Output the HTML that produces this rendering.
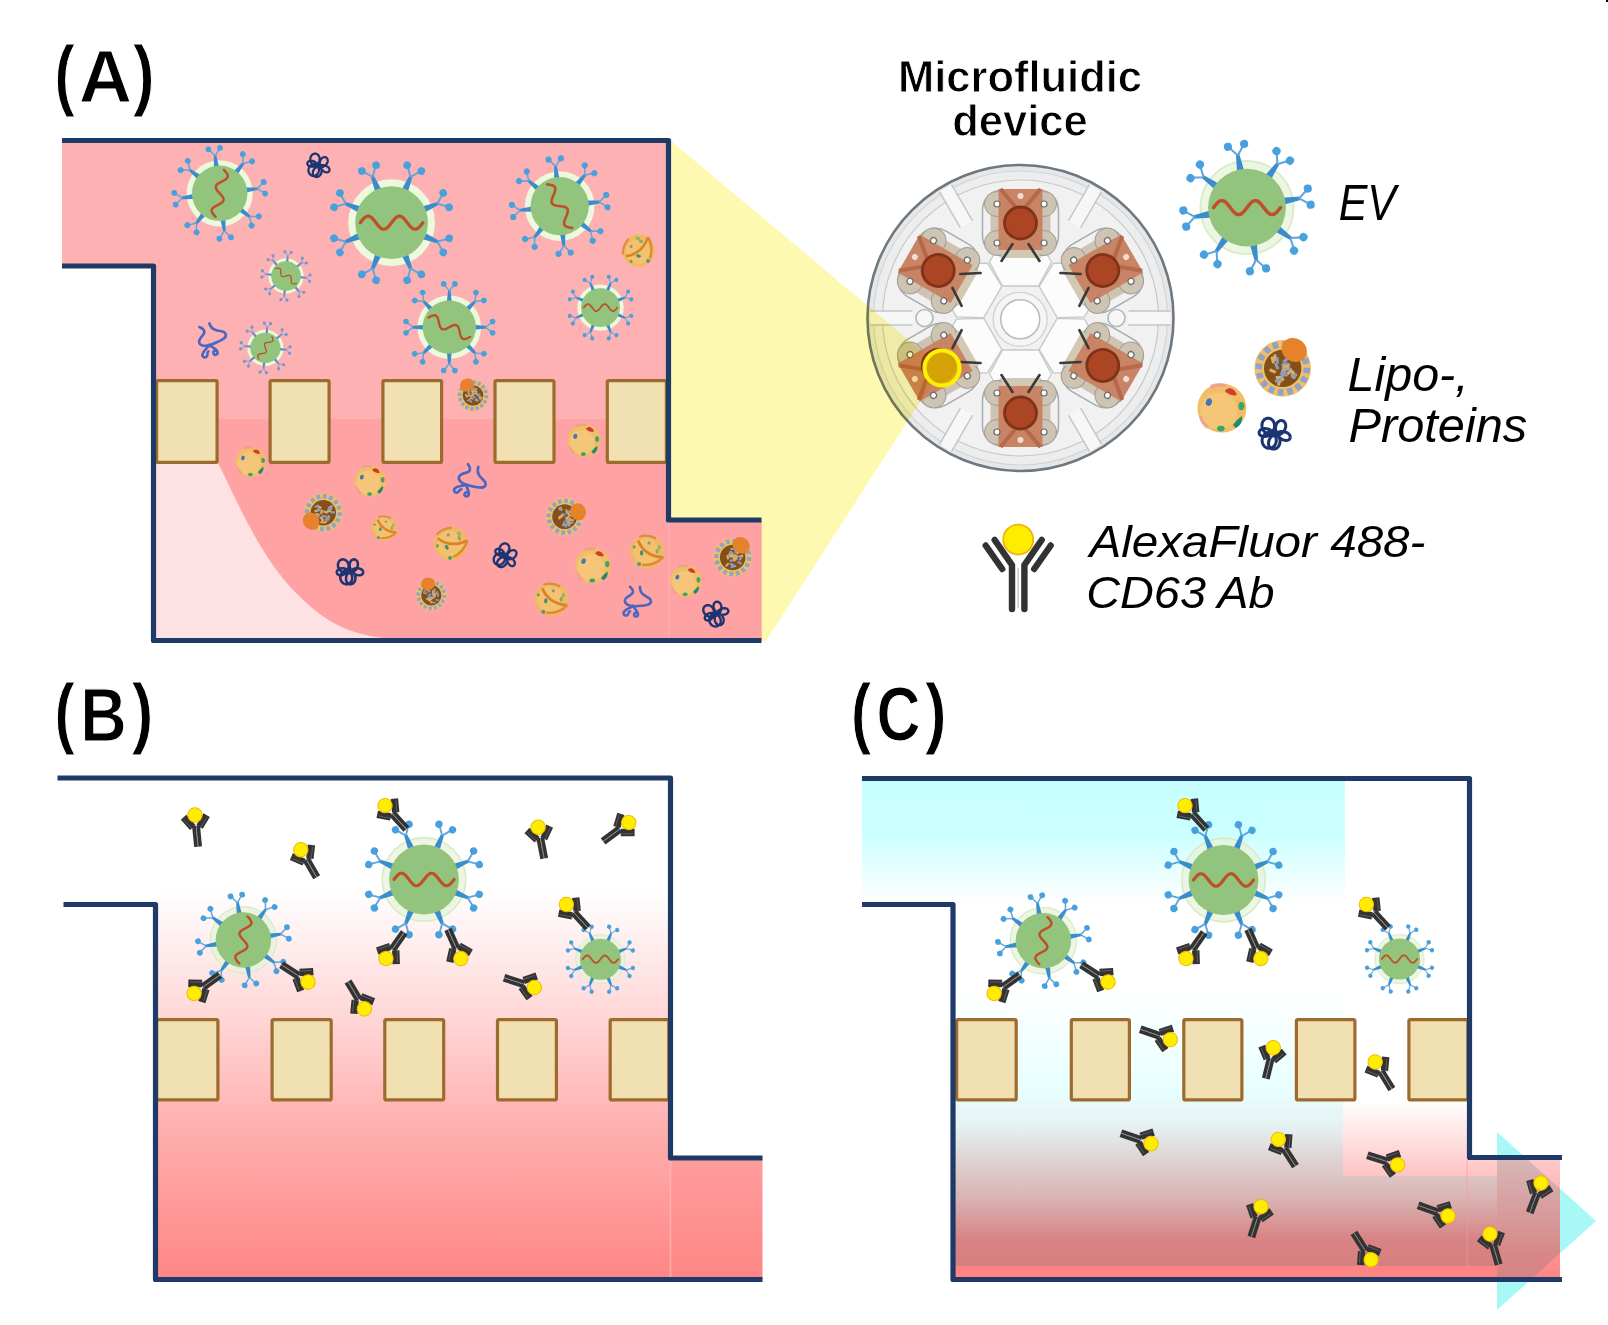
<!DOCTYPE html><html><head><meta charset="utf-8"><title>figure</title><style>html,body{margin:0;padding:0;background:#fff;width:1608px;height:1325px;overflow:hidden}svg{display:block}</style></head><body>
<svg width="1608" height="1325" viewBox="0 0 1608 1325">
<defs>
<g id="spk"><polygon points="33,-3.4 33,3.4 50,1.6 50,-1.6" fill="#3a8dcd"/><path d="M49,0 L57.5,-6.6 M49,0 L57.5,6.6" stroke="#5ea6dc" stroke-width="1.9" fill="none"/><circle cx="58.5" cy="-7.6" r="3.8" fill="#48a0dc"/><circle cx="58.5" cy="7.6" r="3.8" fill="#48a0dc"/></g>
<g id="spks"><polygon points="33,-3.4 33,3.4 50,1.6 50,-1.6" fill="#5f8ccc"/><path d="M49,0 L57.5,-6.6 M49,0 L57.5,6.6" stroke="#7a9ad2" stroke-width="1.9" fill="none"/><circle cx="58.5" cy="-7.6" r="3.8" fill="#6a9ad6"/><circle cx="58.5" cy="7.6" r="3.8" fill="#6a9ad6"/></g>
<path id="rna" d="M-31,-0 L-29.97,-1.35 L-28.93,-2.64 L-27.9,-3.82 L-26.87,-4.83 L-25.83,-5.63 L-24.8,-6.18 L-23.77,-6.46 L-22.73,-6.46 L-21.7,-6.18 L-20.67,-5.63 L-19.63,-4.83 L-18.6,-3.82 L-17.57,-2.64 L-16.53,-1.35 L-15.5,-0 L-14.47,1.35 L-13.43,2.64 L-12.4,3.82 L-11.37,4.83 L-10.33,5.63 L-9.3,6.18 L-8.27,6.46 L-7.23,6.46 L-6.2,6.18 L-5.17,5.63 L-4.13,4.83 L-3.1,3.82 L-2.07,2.64 L-1.03,1.35 L0,0 L1.03,-1.35 L2.07,-2.64 L3.1,-3.82 L4.13,-4.83 L5.17,-5.63 L6.2,-6.18 L7.23,-6.46 L8.27,-6.46 L9.3,-6.18 L10.33,-5.63 L11.37,-4.83 L12.4,-3.82 L13.43,-2.64 L14.47,-1.35 L15.5,-0 L16.53,1.35 L17.57,2.64 L18.6,3.82 L19.63,4.83 L20.67,5.63 L21.7,6.18 L22.73,6.46 L23.77,6.46 L24.8,6.18 L25.83,5.63 L26.87,4.83 L27.9,3.82 L28.93,2.64 L29.97,1.35 L31,0" fill="none" stroke="#bf4f28" stroke-width="3.2" stroke-linecap="round"/>
<g id="ab"><path d="M-6.2,47 V3 L-23.5,-22 M6.2,47 V3 L23.5,-22" stroke="#333" stroke-width="6.4" fill="none" stroke-linecap="round" stroke-linejoin="round"/><path d="M-16,7 L-32.5,-16.5 M16,7 L32.5,-16.5" stroke="#333" stroke-width="6.4" fill="none" stroke-linecap="round"/><path d="M0,6 V46" stroke="#c8c8c8" stroke-width="1.4"/><circle cx="0" cy="-22.4" r="15" fill="#ffed00" stroke="#f0b510" stroke-width="1.8"/></g>
<g id="abs"><path d="M-2.05,22 V1" stroke="#333" stroke-width="3.8"/><path d="M2.05,22 V1" stroke="#333" stroke-width="3.8"/><path d="M-3.4,2.4 L-11.6,-8.6 M3.4,2.4 L11.6,-8.6" stroke="#333" stroke-width="7.4" fill="none"/><path d="M-3.8,4.2 L-11.6,-6.4 M3.8,4.2 L11.6,-6.4" stroke="#6a6a6a" stroke-width="0.7" fill="none"/><path d="M0,3 V21.5" stroke="#8a8a8a" stroke-width="0.8"/><circle cx="0" cy="-9.8" r="7.2" fill="#ffed00" stroke="#f2b800" stroke-width="1"/></g>
<path id="tangle" d="M13.08,0 L12.9,-0.61 L12.56,-1.2 L12.07,-1.74 L11.43,-2.22 L10.68,-2.62 L9.81,-2.93 L8.84,-3.12 L7.8,-3.19 L6.71,-3.13 L5.59,-2.93 L4.47,-2.6 L3.36,-2.14 L2.3,-1.55 L1.29,-0.85 L0.38,-0.04 L-0.44,0.86 L-1.14,1.83 L-1.7,2.85 L-2.13,3.9 L-2.41,4.95 L-2.55,5.99 L-2.53,6.99 L-2.38,7.93 L-2.09,8.79 L-1.68,9.55 L-1.17,10.18 L-0.56,10.69 L0.11,11.05 L0.84,11.26 L1.59,11.32 L2.35,11.22 L3.09,10.96 L3.78,10.56 L4.42,10.02 L4.97,9.35 L5.42,8.58 L5.76,7.72 L5.98,6.79 L6.05,5.82 L5.99,4.82 L5.79,3.83 L5.44,2.86 L4.96,1.95 L4.35,1.1 L3.63,0.35 L2.81,-0.3 L1.91,-0.81 L0.95,-1.19 L-0.06,-1.42 L-1.08,-1.5 L-2.1,-1.42 L-3.09,-1.19 L-4.03,-0.81 L-4.91,-0.3 L-5.69,0.35 L-6.36,1.1 L-6.92,1.95 L-7.33,2.86 L-7.61,3.83 L-7.74,4.82 L-7.72,5.82 L-7.55,6.79 L-7.24,7.72 L-6.8,8.58 L-6.24,9.35 L-5.58,10.02 L-4.82,10.56 L-4.01,10.96 L-3.14,11.22 L-2.26,11.32 L-1.38,11.26 L-0.52,11.05 L0.29,10.69 L1.03,10.18 L1.68,9.55 L2.23,8.79 L2.65,7.93 L2.94,6.99 L3.08,5.99 L3.08,4.95 L2.93,3.9 L2.62,2.85 L2.18,1.83 L1.6,0.86 L0.89,-0.04 L0.08,-0.85 L-0.82,-1.55 L-1.78,-2.14 L-2.8,-2.6 L-3.84,-2.93 L-4.89,-3.13 L-5.91,-3.19 L-6.89,-3.12 L-7.8,-2.93 L-8.62,-2.62 L-9.34,-2.22 L-9.94,-1.74 L-10.41,-1.2 L-10.74,-0.61 L-10.92,-0 L-10.95,0.61 L-10.83,1.2 L-10.57,1.74 L-10.18,2.22 L-9.66,2.62 L-9.04,2.93 L-8.32,3.12 L-7.53,3.19 L-6.69,3.13 L-5.82,2.93 L-4.95,2.6 L-4.09,2.14 L-3.27,1.55 L-2.51,0.85 L-1.83,0.04 L-1.25,-0.86 L-0.77,-1.83 L-0.42,-2.85 L-0.2,-3.9 L-0.12,-4.95 L-0.18,-5.99 L-0.37,-6.99 L-0.69,-7.93 L-1.13,-8.79 L-1.68,-9.55 L-2.33,-10.18 L-3.05,-10.69 L-3.83,-11.05 L-4.64,-11.26 L-5.46,-11.32 L-6.27,-11.22 L-7.05,-10.96 L-7.77,-10.56 L-8.42,-10.02 L-8.96,-9.35 L-9.39,-8.58 L-9.7,-7.72 L-9.85,-6.79 L-9.86,-5.82 L-9.72,-4.82 L-9.41,-3.83 L-8.96,-2.86 L-8.35,-1.95 L-7.6,-1.1 L-6.73,-0.35 L-5.74,0.3 L-4.67,0.81 L-3.51,1.19 L-2.31,1.42 L-1.08,1.5 L0.15,1.42 L1.37,1.19 L2.54,0.81 L3.65,0.3 L4.67,-0.35 L5.59,-1.1 L6.39,-1.95 L7.06,-2.86 L7.59,-3.83 L7.97,-4.82 L8.2,-5.82 L8.28,-6.79 L8.22,-7.72 L8.02,-8.58 L7.69,-9.35 L7.26,-10.02 L6.73,-10.56 L6.13,-10.96 L5.48,-11.22 L4.79,-11.32 L4.1,-11.26 L3.42,-11.05 L2.78,-10.69 L2.19,-10.18 L1.68,-9.55 L1.27,-8.79 L0.96,-7.93 L0.77,-6.99 L0.71,-5.99 L0.79,-4.95 L1,-3.9 L1.34,-2.85 L1.81,-1.83 L2.4,-0.86 L3.1,0.04 L3.89,0.85 L4.75,1.55 L5.66,2.14 L6.61,2.6 L7.57,2.93 L8.51,3.13 L9.42,3.19 L10.27,3.12 L11.04,2.93 L11.72,2.62 L12.27,2.22 L12.7,1.74 L12.98,1.2 L13.11,0.61 L13.08,0" fill="none" stroke="#1d3472" stroke-width="2.3" stroke-linejoin="round"/>
<linearGradient id="gB" x1="0" y1="0" x2="0" y2="1" gradientUnits="objectBoundingBox"><stop offset="0" stop-color="#ffffff"/><stop offset="0.33" stop-color="#ffd6d6"/><stop offset="0.62" stop-color="#ffaeae"/><stop offset="1" stop-color="#ff8585"/></linearGradient>
<linearGradient id="gCtop" x1="0" y1="0" x2="0" y2="1"><stop offset="0" stop-color="#c6ffff"/><stop offset="0.45" stop-color="#ccffff"/><stop offset="1" stop-color="#ffffff"/></linearGradient>
<linearGradient id="gClow" x1="0" y1="0" x2="0" y2="1"><stop offset="0" stop-color="#ffffff"/><stop offset="0.36" stop-color="#e8ffff"/><stop offset="0.49" stop-color="#e6f2f2"/><stop offset="0.60" stop-color="#e0d6d6"/><stop offset="0.76" stop-color="#d9b2b2"/><stop offset="0.90" stop-color="#d88484"/><stop offset="1" stop-color="#d77f7f"/></linearGradient>
<linearGradient id="gCpink" x1="0" y1="0" x2="0" y2="1"><stop offset="0" stop-color="#ffffff"/><stop offset="1" stop-color="#ffc3c3"/></linearGradient>
<linearGradient id="gCright" x1="0" y1="0" x2="0" y2="1"><stop offset="0" stop-color="#ffc8c8"/><stop offset="1" stop-color="#ff8585"/></linearGradient>
<linearGradient id="gCarrow" x1="0" y1="0" x2="0" y2="1"><stop offset="0" stop-color="#d6c4c4"/><stop offset="0.7" stop-color="#d88686"/><stop offset="1" stop-color="#d77f7f"/></linearGradient>
<clipPath id="clipC"><path d="M955,780 H1467 V1160 H1560 V1277 H955 Z"/></clipPath>
<clipPath id="clipCstep"><rect x="1470" y="1160" width="92" height="117"/></clipPath>
<linearGradient id="gBr" x1="0" y1="0" x2="0" y2="1"><stop offset="0" stop-color="#fe9d9d"/><stop offset="1" stop-color="#ff8585"/></linearGradient></defs>
<rect width="1608" height="1325" fill="#fff"/>
<polygon points="670,140 766,641 670,641" fill="#fef9b0"/>
<g>
<circle cx="1020.5" cy="318" r="153" fill="#e6e7e8" stroke="#6f787f" stroke-width="2.6"/>
<circle cx="1020.5" cy="318" r="147" fill="#ededed" stroke="#d2d4d6" stroke-width="1.2"/>
<circle cx="1020.5" cy="318" r="138" fill="#f1f1f1" stroke="#c6c9cc" stroke-width="1.2"/>
<g transform="translate(1020.5,318) rotate(0)"><path d="M108,-7 H150 M108,7 H150" stroke="#c3c6c9" stroke-width="1.4"/><rect x="108" y="-6" width="42" height="12" fill="#f7f7f7"/></g>
<g transform="translate(1020.5,318) rotate(60)"><path d="M108,-7 H150 M108,7 H150" stroke="#c3c6c9" stroke-width="1.4"/><rect x="108" y="-6" width="42" height="12" fill="#f7f7f7"/></g>
<g transform="translate(1020.5,318) rotate(120)"><path d="M108,-7 H150 M108,7 H150" stroke="#c3c6c9" stroke-width="1.4"/><rect x="108" y="-6" width="42" height="12" fill="#f7f7f7"/></g>
<g transform="translate(1020.5,318) rotate(180)"><path d="M108,-7 H150 M108,7 H150" stroke="#c3c6c9" stroke-width="1.4"/><rect x="108" y="-6" width="42" height="12" fill="#f7f7f7"/></g>
<g transform="translate(1020.5,318) rotate(240)"><path d="M108,-7 H150 M108,7 H150" stroke="#c3c6c9" stroke-width="1.4"/><rect x="108" y="-6" width="42" height="12" fill="#f7f7f7"/></g>
<g transform="translate(1020.5,318) rotate(300)"><path d="M108,-7 H150 M108,7 H150" stroke="#c3c6c9" stroke-width="1.4"/><rect x="108" y="-6" width="42" height="12" fill="#f7f7f7"/></g>
<g transform="translate(1020.5,318) rotate(30)">
<polygon points="32,-18 56,-31 80,-17 80,17 56,31 32,18" fill="#fcfcfc" stroke="#c6c8ca" stroke-width="1.3"/>
</g>
<g transform="translate(1020.5,318) rotate(90)">
<polygon points="32,-18 56,-31 80,-17 80,17 56,31 32,18" fill="#fcfcfc" stroke="#c6c8ca" stroke-width="1.3"/>
</g>
<g transform="translate(1020.5,318) rotate(150)">
<polygon points="32,-18 56,-31 80,-17 80,17 56,31 32,18" fill="#fcfcfc" stroke="#c6c8ca" stroke-width="1.3"/>
</g>
<g transform="translate(1020.5,318) rotate(210)">
<polygon points="32,-18 56,-31 80,-17 80,17 56,31 32,18" fill="#fcfcfc" stroke="#c6c8ca" stroke-width="1.3"/>
</g>
<g transform="translate(1020.5,318) rotate(270)">
<polygon points="32,-18 56,-31 80,-17 80,17 56,31 32,18" fill="#fcfcfc" stroke="#c6c8ca" stroke-width="1.3"/>
</g>
<g transform="translate(1020.5,318) rotate(330)">
<polygon points="32,-18 56,-31 80,-17 80,17 56,31 32,18" fill="#fcfcfc" stroke="#c6c8ca" stroke-width="1.3"/>
</g>
<g transform="translate(1020.5,318) rotate(-90) translate(95,0) rotate(90)">
<rect x="-38" y="-33" width="76" height="66" rx="20" fill="none" stroke="#a6abb0" stroke-width="1.5"/>
<rect x="-30" y="-19" width="60" height="39" fill="#cdc4b3"/>
<circle cx="-23.5" cy="-19" r="12.5" fill="#cdc4b3" stroke="#a39b90" stroke-width="1"/>
<circle cx="23.5" cy="-19" r="12.5" fill="#cdc4b3" stroke="#a39b90" stroke-width="1"/>
<circle cx="-23.5" cy="20" r="12.5" fill="#cdc4b3" stroke="#a39b90" stroke-width="1"/>
<circle cx="23.5" cy="20" r="12.5" fill="#cdc4b3" stroke="#a39b90" stroke-width="1"/>
<path d="M-12,22 H12 L21,35 H-21 Z" fill="#d2c8b4"/>
<rect x="-22" y="-34" width="44" height="61" fill="#c98365"/>
<path d="M-20,-34 L0,-10 L20,-34" stroke="#b5694a" stroke-width="4" fill="none"/>
<circle cx="0" cy="-27" r="3" fill="#f4dcd0"/>
<circle cx="0" cy="0" r="16" fill="#ac4524" stroke="#7f3318" stroke-width="2.8"/>
<circle cx="-23.5" cy="-19" r="3" fill="#fbfbfb" stroke="#6f6a66" stroke-width="1.2"/>
<circle cx="23.5" cy="-19" r="3" fill="#fbfbfb" stroke="#6f6a66" stroke-width="1.2"/>
<circle cx="-23.5" cy="20" r="3" fill="#fbfbfb" stroke="#6f6a66" stroke-width="1.2"/>
<circle cx="23.5" cy="20" r="3" fill="#fbfbfb" stroke="#6f6a66" stroke-width="1.2"/>
<path d="M-19,38 L-8,21 M19,38 L8,21" stroke="#3a3a3a" stroke-width="2.6" fill="none" stroke-linecap="round"/>
</g>
<g transform="translate(1020.5,318) rotate(-30) translate(95,0) rotate(90)">
<rect x="-38" y="-33" width="76" height="66" rx="20" fill="none" stroke="#a6abb0" stroke-width="1.5"/>
<rect x="-30" y="-19" width="60" height="39" fill="#cdc4b3"/>
<circle cx="-23.5" cy="-19" r="12.5" fill="#cdc4b3" stroke="#a39b90" stroke-width="1"/>
<circle cx="23.5" cy="-19" r="12.5" fill="#cdc4b3" stroke="#a39b90" stroke-width="1"/>
<circle cx="-23.5" cy="20" r="12.5" fill="#cdc4b3" stroke="#a39b90" stroke-width="1"/>
<circle cx="23.5" cy="20" r="12.5" fill="#cdc4b3" stroke="#a39b90" stroke-width="1"/>
<path d="M-12,22 H12 L21,35 H-21 Z" fill="#d2c8b4"/>
<rect x="-22" y="-34" width="44" height="61" fill="#c98365"/>
<path d="M-20,-34 L0,-10 L20,-34" stroke="#b5694a" stroke-width="4" fill="none"/>
<circle cx="0" cy="-27" r="3" fill="#f4dcd0"/>
<circle cx="0" cy="0" r="16" fill="#ac4524" stroke="#7f3318" stroke-width="2.8"/>
<circle cx="-23.5" cy="-19" r="3" fill="#fbfbfb" stroke="#6f6a66" stroke-width="1.2"/>
<circle cx="23.5" cy="-19" r="3" fill="#fbfbfb" stroke="#6f6a66" stroke-width="1.2"/>
<circle cx="-23.5" cy="20" r="3" fill="#fbfbfb" stroke="#6f6a66" stroke-width="1.2"/>
<circle cx="23.5" cy="20" r="3" fill="#fbfbfb" stroke="#6f6a66" stroke-width="1.2"/>
<path d="M-19,38 L-8,21 M19,38 L8,21" stroke="#3a3a3a" stroke-width="2.6" fill="none" stroke-linecap="round"/>
</g>
<g transform="translate(1020.5,318) rotate(30) translate(95,0) rotate(90)">
<rect x="-38" y="-33" width="76" height="66" rx="20" fill="none" stroke="#a6abb0" stroke-width="1.5"/>
<rect x="-30" y="-19" width="60" height="39" fill="#cdc4b3"/>
<circle cx="-23.5" cy="-19" r="12.5" fill="#cdc4b3" stroke="#a39b90" stroke-width="1"/>
<circle cx="23.5" cy="-19" r="12.5" fill="#cdc4b3" stroke="#a39b90" stroke-width="1"/>
<circle cx="-23.5" cy="20" r="12.5" fill="#cdc4b3" stroke="#a39b90" stroke-width="1"/>
<circle cx="23.5" cy="20" r="12.5" fill="#cdc4b3" stroke="#a39b90" stroke-width="1"/>
<path d="M-12,22 H12 L21,35 H-21 Z" fill="#d2c8b4"/>
<rect x="-22" y="-34" width="44" height="61" fill="#c98365"/>
<path d="M-20,-34 L0,-10 L20,-34" stroke="#b5694a" stroke-width="4" fill="none"/>
<circle cx="0" cy="-27" r="3" fill="#f4dcd0"/>
<circle cx="0" cy="0" r="16" fill="#ac4524" stroke="#7f3318" stroke-width="2.8"/>
<circle cx="-23.5" cy="-19" r="3" fill="#fbfbfb" stroke="#6f6a66" stroke-width="1.2"/>
<circle cx="23.5" cy="-19" r="3" fill="#fbfbfb" stroke="#6f6a66" stroke-width="1.2"/>
<circle cx="-23.5" cy="20" r="3" fill="#fbfbfb" stroke="#6f6a66" stroke-width="1.2"/>
<circle cx="23.5" cy="20" r="3" fill="#fbfbfb" stroke="#6f6a66" stroke-width="1.2"/>
<path d="M-19,38 L-8,21 M19,38 L8,21" stroke="#3a3a3a" stroke-width="2.6" fill="none" stroke-linecap="round"/>
</g>
<g transform="translate(1020.5,318) rotate(90) translate(95,0) rotate(90)">
<rect x="-38" y="-33" width="76" height="66" rx="20" fill="none" stroke="#a6abb0" stroke-width="1.5"/>
<rect x="-30" y="-19" width="60" height="39" fill="#cdc4b3"/>
<circle cx="-23.5" cy="-19" r="12.5" fill="#cdc4b3" stroke="#a39b90" stroke-width="1"/>
<circle cx="23.5" cy="-19" r="12.5" fill="#cdc4b3" stroke="#a39b90" stroke-width="1"/>
<circle cx="-23.5" cy="20" r="12.5" fill="#cdc4b3" stroke="#a39b90" stroke-width="1"/>
<circle cx="23.5" cy="20" r="12.5" fill="#cdc4b3" stroke="#a39b90" stroke-width="1"/>
<path d="M-12,22 H12 L21,35 H-21 Z" fill="#d2c8b4"/>
<rect x="-22" y="-34" width="44" height="61" fill="#c98365"/>
<path d="M-20,-34 L0,-10 L20,-34" stroke="#b5694a" stroke-width="4" fill="none"/>
<circle cx="0" cy="-27" r="3" fill="#f4dcd0"/>
<circle cx="0" cy="0" r="16" fill="#ac4524" stroke="#7f3318" stroke-width="2.8"/>
<circle cx="-23.5" cy="-19" r="3" fill="#fbfbfb" stroke="#6f6a66" stroke-width="1.2"/>
<circle cx="23.5" cy="-19" r="3" fill="#fbfbfb" stroke="#6f6a66" stroke-width="1.2"/>
<circle cx="-23.5" cy="20" r="3" fill="#fbfbfb" stroke="#6f6a66" stroke-width="1.2"/>
<circle cx="23.5" cy="20" r="3" fill="#fbfbfb" stroke="#6f6a66" stroke-width="1.2"/>
<path d="M-19,38 L-8,21 M19,38 L8,21" stroke="#3a3a3a" stroke-width="2.6" fill="none" stroke-linecap="round"/>
</g>
<g transform="translate(1020.5,318) rotate(150) translate(95,0) rotate(90)">
<rect x="-38" y="-33" width="76" height="66" rx="20" fill="none" stroke="#a6abb0" stroke-width="1.5"/>
<rect x="-30" y="-19" width="60" height="39" fill="#cdc4b3"/>
<circle cx="-23.5" cy="-19" r="12.5" fill="#cdc4b3" stroke="#a39b90" stroke-width="1"/>
<circle cx="23.5" cy="-19" r="12.5" fill="#cdc4b3" stroke="#a39b90" stroke-width="1"/>
<circle cx="-23.5" cy="20" r="12.5" fill="#cdc4b3" stroke="#a39b90" stroke-width="1"/>
<circle cx="23.5" cy="20" r="12.5" fill="#cdc4b3" stroke="#a39b90" stroke-width="1"/>
<path d="M-12,22 H12 L21,35 H-21 Z" fill="#d2c8b4"/>
<rect x="-22" y="-34" width="44" height="61" fill="#c98365"/>
<path d="M-20,-34 L0,-10 L20,-34" stroke="#b5694a" stroke-width="4" fill="none"/>
<circle cx="0" cy="-27" r="3" fill="#f4dcd0"/>
<circle cx="0" cy="0" r="16" fill="#ac4524" stroke="#7f3318" stroke-width="2.8"/>
<circle cx="-23.5" cy="-19" r="3" fill="#fbfbfb" stroke="#6f6a66" stroke-width="1.2"/>
<circle cx="23.5" cy="-19" r="3" fill="#fbfbfb" stroke="#6f6a66" stroke-width="1.2"/>
<circle cx="-23.5" cy="20" r="3" fill="#fbfbfb" stroke="#6f6a66" stroke-width="1.2"/>
<circle cx="23.5" cy="20" r="3" fill="#fbfbfb" stroke="#6f6a66" stroke-width="1.2"/>
<path d="M-19,38 L-8,21 M19,38 L8,21" stroke="#3a3a3a" stroke-width="2.6" fill="none" stroke-linecap="round"/>
</g>
<g transform="translate(1020.5,318) rotate(210) translate(95,0) rotate(90)">
<rect x="-38" y="-33" width="76" height="66" rx="20" fill="none" stroke="#a6abb0" stroke-width="1.5"/>
<rect x="-30" y="-19" width="60" height="39" fill="#cdc4b3"/>
<circle cx="-23.5" cy="-19" r="12.5" fill="#cdc4b3" stroke="#a39b90" stroke-width="1"/>
<circle cx="23.5" cy="-19" r="12.5" fill="#cdc4b3" stroke="#a39b90" stroke-width="1"/>
<circle cx="-23.5" cy="20" r="12.5" fill="#cdc4b3" stroke="#a39b90" stroke-width="1"/>
<circle cx="23.5" cy="20" r="12.5" fill="#cdc4b3" stroke="#a39b90" stroke-width="1"/>
<path d="M-12,22 H12 L21,35 H-21 Z" fill="#d2c8b4"/>
<rect x="-22" y="-34" width="44" height="61" fill="#c98365"/>
<path d="M-20,-34 L0,-10 L20,-34" stroke="#b5694a" stroke-width="4" fill="none"/>
<circle cx="0" cy="-27" r="3" fill="#f4dcd0"/>
<circle cx="0" cy="0" r="16" fill="#ac4524" stroke="#7f3318" stroke-width="2.8"/>
<circle cx="-23.5" cy="-19" r="3" fill="#fbfbfb" stroke="#6f6a66" stroke-width="1.2"/>
<circle cx="23.5" cy="-19" r="3" fill="#fbfbfb" stroke="#6f6a66" stroke-width="1.2"/>
<circle cx="-23.5" cy="20" r="3" fill="#fbfbfb" stroke="#6f6a66" stroke-width="1.2"/>
<circle cx="23.5" cy="20" r="3" fill="#fbfbfb" stroke="#6f6a66" stroke-width="1.2"/>
<path d="M-19,38 L-8,21 M19,38 L8,21" stroke="#3a3a3a" stroke-width="2.6" fill="none" stroke-linecap="round"/>
</g>
<circle cx="924.5" cy="318" r="8.5" fill="#f6f6f6" stroke="#b3b8bc" stroke-width="1.6"/>
<circle cx="1116.5" cy="318" r="8.5" fill="#f6f6f6" stroke="#b3b8bc" stroke-width="1.6"/>
<circle cx="1020.2" cy="319.3" r="27" fill="#f5f5f5" stroke="#cfd2d4" stroke-width="1.3"/>
<circle cx="1020.2" cy="319.3" r="19.5" fill="#ffffff" stroke="#b9bdc0" stroke-width="1.6"/>
</g>
<polygon points="670,140 942,368 766,641" fill="#fef9b0" style="mix-blend-mode:multiply"/>
<circle cx="942" cy="368" r="17.5" fill="#dcb400" fill-opacity="0.85" stroke="#fff000" stroke-width="4.2"/>
<path d="M62,140.5 H668.5 V520 H761.5 V640.5 H153.5 V266 H62 Z" fill="#feb1b3"/>
<path d="M155,419.3 H668.5 V520 H761.5 V640.5 H155 Z" fill="#fea2a4"/>
<path d="M155,463 H218 C236,498 258,554 296,593 C328,625 352,637 405,640 H155 Z" fill="#fde1e3"/>
<rect x="156.6" y="380.6" width="60.5" height="81.8" fill="#f0e0b2" stroke="#9d6b2e" stroke-width="3.2" rx="1.5"/>
<rect x="270.1" y="380.6" width="59" height="81.8" fill="#f0e0b2" stroke="#9d6b2e" stroke-width="3.2" rx="1.5"/>
<rect x="382.9" y="380.6" width="58.7" height="81.8" fill="#f0e0b2" stroke="#9d6b2e" stroke-width="3.2" rx="1.5"/>
<rect x="495" y="380.6" width="59" height="81.8" fill="#f0e0b2" stroke="#9d6b2e" stroke-width="3.2" rx="1.5"/>
<rect x="607.3" y="380.6" width="59.1" height="81.8" fill="#f0e0b2" stroke="#9d6b2e" stroke-width="3.2" rx="1.5"/>
<g transform="translate(219.7,193.3) scale(0.77)">
<circle r="43" fill="#ecf9dc"/>
<use href="#spk" transform="rotate(-97)"/>
<use href="#spk" transform="rotate(-52)"/>
<use href="#spk" transform="rotate(-7)"/>
<use href="#spk" transform="rotate(38)"/>
<use href="#spk" transform="rotate(83)"/>
<use href="#spk" transform="rotate(128)"/>
<use href="#spk" transform="rotate(173)"/>
<use href="#spk" transform="rotate(218)"/>
<circle r="36" fill="#93c47d"/>
<use href="#rna" transform="rotate(100)"/>
</g>
<g transform="translate(391.6,222.7) scale(1.01)">
<circle r="43" fill="#ecf9dc"/>
<use href="#spk" transform="rotate(-112.5)"/>
<use href="#spk" transform="rotate(-67.5)"/>
<use href="#spk" transform="rotate(-22.5)"/>
<use href="#spk" transform="rotate(22.5)"/>
<use href="#spk" transform="rotate(67.5)"/>
<use href="#spk" transform="rotate(112.5)"/>
<use href="#spk" transform="rotate(157.5)"/>
<use href="#spk" transform="rotate(202.5)"/>
<circle r="36" fill="#93c47d"/>
<use href="#rna" transform="rotate(0)"/>
</g>
<g transform="translate(286,276) scale(0.41)">
<circle r="43" fill="#ecf9dc"/>
<use href="#spks" transform="rotate(-85)"/>
<use href="#spks" transform="rotate(-40)"/>
<use href="#spks" transform="rotate(5)"/>
<use href="#spks" transform="rotate(50)"/>
<use href="#spks" transform="rotate(95)"/>
<use href="#spks" transform="rotate(140)"/>
<use href="#spks" transform="rotate(185)"/>
<use href="#spks" transform="rotate(230)"/>
<circle r="36" fill="#93c47d"/>
<use href="#rna" transform="rotate(35)"/>
</g>
<g transform="translate(265.4,347.9) scale(0.42)">
<circle r="43" fill="#ecf9dc"/>
<use href="#spks" transform="rotate(-85)"/>
<use href="#spks" transform="rotate(-40)"/>
<use href="#spks" transform="rotate(5)"/>
<use href="#spks" transform="rotate(50)"/>
<use href="#spks" transform="rotate(95)"/>
<use href="#spks" transform="rotate(140)"/>
<use href="#spks" transform="rotate(185)"/>
<use href="#spks" transform="rotate(230)"/>
<circle r="36" fill="#93c47d"/>
<use href="#rna" transform="rotate(120)"/>
</g>
<g transform="translate(449.3,327.2) scale(0.74)">
<circle r="43" fill="#ecf9dc"/>
<use href="#spk" transform="rotate(-90)"/>
<use href="#spk" transform="rotate(-45)"/>
<use href="#spk" transform="rotate(0)"/>
<use href="#spk" transform="rotate(45)"/>
<use href="#spk" transform="rotate(90)"/>
<use href="#spk" transform="rotate(135)"/>
<use href="#spk" transform="rotate(180)"/>
<use href="#spk" transform="rotate(225)"/>
<circle r="36" fill="#93c47d"/>
<use href="#rna" transform="rotate(25)"/>
</g>
<g transform="translate(559.7,206.1) scale(0.81)">
<circle r="43" fill="#ecf9dc"/>
<use href="#spk" transform="rotate(-96)"/>
<use href="#spk" transform="rotate(-51)"/>
<use href="#spk" transform="rotate(-6)"/>
<use href="#spk" transform="rotate(39)"/>
<use href="#spk" transform="rotate(84)"/>
<use href="#spk" transform="rotate(129)"/>
<use href="#spk" transform="rotate(174)"/>
<use href="#spk" transform="rotate(219)"/>
<circle r="36" fill="#93c47d"/>
<use href="#rna" transform="rotate(60)"/>
</g>
<g transform="translate(600.5,307.6) scale(0.54)">
<circle r="43" fill="#ecf9dc"/>
<use href="#spk" transform="rotate(-112.5)"/>
<use href="#spk" transform="rotate(-67.5)"/>
<use href="#spk" transform="rotate(-22.5)"/>
<use href="#spk" transform="rotate(22.5)"/>
<use href="#spk" transform="rotate(67.5)"/>
<use href="#spk" transform="rotate(112.5)"/>
<use href="#spk" transform="rotate(157.5)"/>
<use href="#spk" transform="rotate(202.5)"/>
<circle r="36" fill="#93c47d"/>
<use href="#rna" transform="rotate(0)"/>
</g>
<use href="#tangle" transform="translate(317.6,166) scale(0.97) rotate(20)"/>
<g transform="translate(212,340) scale(1.06) rotate(-20)" fill="none" stroke="#4a66c2" stroke-width="2.5" stroke-linecap="round">
<path d="M-7,-15.5 C-3,-12 -3,-9 -7,-7 C-13,-4 -14,0 -9,2.5 C-5,4.5 0,4 4,3.5 C9,3 14,3 14,-1 C14,-5 8,-5 5,-9 C3,-11 3,-13 3,-15.5"/>
<path d="M-4,3.5 C-2,7 1,9 1,12 C1,15 -3,15 -3,12.5 C-3,10 0,10 1,11"/>
<path d="M-4,3.5 C-7,6 -10,6.5 -12,8.5 C-15,11 -13,14 -10,13 C-8,12 -9,9.5 -7,9"/>
</g>
<g transform="translate(471,482) scale(1.06) rotate(15)" fill="none" stroke="#4a66c2" stroke-width="2.5" stroke-linecap="round">
<path d="M-7,-15.5 C-3,-12 -3,-9 -7,-7 C-13,-4 -14,0 -9,2.5 C-5,4.5 0,4 4,3.5 C9,3 14,3 14,-1 C14,-5 8,-5 5,-9 C3,-11 3,-13 3,-15.5"/>
<path d="M-4,3.5 C-2,7 1,9 1,12 C1,15 -3,15 -3,12.5 C-3,10 0,10 1,11"/>
<path d="M-4,3.5 C-7,6 -10,6.5 -12,8.5 C-15,11 -13,14 -10,13 C-8,12 -9,9.5 -7,9"/>
</g>
<use href="#tangle" transform="translate(348.8,571.8) scale(1.1) rotate(0)"/>
<use href="#tangle" transform="translate(504.5,556.5) scale(1) rotate(40)"/>
<g transform="translate(637,602.3) scale(1) rotate(0)" fill="none" stroke="#4a66c2" stroke-width="2.5" stroke-linecap="round">
<path d="M-7,-15.5 C-3,-12 -3,-9 -7,-7 C-13,-4 -14,0 -9,2.5 C-5,4.5 0,4 4,3.5 C9,3 14,3 14,-1 C14,-5 8,-5 5,-9 C3,-11 3,-13 3,-15.5"/>
<path d="M-4,3.5 C-2,7 1,9 1,12 C1,15 -3,15 -3,12.5 C-3,10 0,10 1,11"/>
<path d="M-4,3.5 C-7,6 -10,6.5 -12,8.5 C-15,11 -13,14 -10,13 C-8,12 -9,9.5 -7,9"/>
</g>
<use href="#tangle" transform="translate(715.4,614.5) scale(1.03) rotate(-20)"/>
<g transform="translate(638.5,250.5) scale(0.96) rotate(-75)">
<circle r="17" fill="#f0b95f"/><circle cx="-1" cy="0" r="13" fill="#f3c270"/>
<path d="M-8,-14.5 Q0,-17.5 9,-13" stroke="#e3874a" stroke-width="2.2" fill="none"/>
<path d="M-9,-11 C-5,-1 3,5 16,6" stroke="#dc8228" stroke-width="2.8" fill="none"/>
<path d="M-5,13.5 C3,14 10,12 16,6" stroke="#de8a30" stroke-width="2.4" fill="none"/>
<ellipse cx="-5.5" cy="1.5" rx="1.7" ry="2.6" fill="#3f8f78"/>
<circle cx="-13" cy="-4.5" r="1.6" fill="#7a9a6a"/><circle cx="2" cy="-8.5" r="1.6" fill="#8a9a80"/>
<ellipse cx="12" cy="-4" rx="1.8" ry="2.4" fill="#9ab070"/><ellipse cx="10" cy="0" rx="1.6" ry="2.4" fill="#8aa860"/>
<circle cx="-8" cy="12.5" r="2" fill="#4f9a78"/>
</g>
<g transform="translate(251,461.7) scale(0.62) rotate(0)">
<circle r="24.5" fill="#f2bd66"/><circle cx="-3" cy="3" r="18.5" fill="#f5c677"/>
<path d="M3,-17 C6,-22 13,-20 15,-13 C11,-12 7,-13 3,-17z" fill="#cf3b36"/>
<path d="M-12,-23 C-6,-25.5 0,-25 4,-24 L3,-21 C-2,-22 -7,-21 -11,-20z" fill="#ec9a92" opacity="0.8"/>
<path d="M-23,8 C-22,14 -19,18 -15,21 L-13,18 C-17,15 -19,12 -20,8z" fill="#ec9a92" opacity="0.7"/>
<ellipse cx="-13" cy="-6" rx="3" ry="3.8" fill="#3f78b5" transform="rotate(20 -13 -6)"/>
<ellipse cx="19.5" cy="-2" rx="3" ry="4.2" fill="#3fa36a"/>
<path d="M11,17 C14,13 17,10 20,8 C21,13 18,18 14,20z" fill="#1f8a6c"/>
<ellipse cx="-1" cy="20.5" rx="3.8" ry="2.8" fill="#38a36a"/>
</g>
<g transform="translate(370.2,481) scale(0.64) rotate(0)">
<circle r="24.5" fill="#f2bd66"/><circle cx="-3" cy="3" r="18.5" fill="#f5c677"/>
<path d="M3,-17 C6,-22 13,-20 15,-13 C11,-12 7,-13 3,-17z" fill="#cf3b36"/>
<path d="M-12,-23 C-6,-25.5 0,-25 4,-24 L3,-21 C-2,-22 -7,-21 -11,-20z" fill="#ec9a92" opacity="0.8"/>
<path d="M-23,8 C-22,14 -19,18 -15,21 L-13,18 C-17,15 -19,12 -20,8z" fill="#ec9a92" opacity="0.7"/>
<ellipse cx="-13" cy="-6" rx="3" ry="3.8" fill="#3f78b5" transform="rotate(20 -13 -6)"/>
<ellipse cx="19.5" cy="-2" rx="3" ry="4.2" fill="#3fa36a"/>
<path d="M11,17 C14,13 17,10 20,8 C21,13 18,18 14,20z" fill="#1f8a6c"/>
<ellipse cx="-1" cy="20.5" rx="3.8" ry="2.8" fill="#38a36a"/>
</g>
<g transform="translate(323.3,512.7) scale(0.69)">
<circle r="28" fill="#f2c064"/>
<rect x="20.5" y="-2.8" width="6.5" height="5.6" fill="#8fa3cc" transform="rotate(5)"/>
<rect x="20.5" y="-2.8" width="6.5" height="5.6" fill="#8fa3cc" transform="rotate(27.5)"/>
<rect x="20.5" y="-2.8" width="6.5" height="5.6" fill="#8fa3cc" transform="rotate(50)"/>
<rect x="20.5" y="-2.8" width="6.5" height="5.6" fill="#8fa3cc" transform="rotate(72.5)"/>
<rect x="20.5" y="-2.8" width="6.5" height="5.6" fill="#8fa3cc" transform="rotate(95)"/>
<rect x="20.5" y="-2.8" width="6.5" height="5.6" fill="#8fa3cc" transform="rotate(117.5)"/>
<rect x="20.5" y="-2.8" width="6.5" height="5.6" fill="#8fa3cc" transform="rotate(140)"/>
<rect x="20.5" y="-2.8" width="6.5" height="5.6" fill="#8fa3cc" transform="rotate(162.5)"/>
<rect x="20.5" y="-2.8" width="6.5" height="5.6" fill="#8fa3cc" transform="rotate(185)"/>
<rect x="20.5" y="-2.8" width="6.5" height="5.6" fill="#8fa3cc" transform="rotate(207.5)"/>
<rect x="20.5" y="-2.8" width="6.5" height="5.6" fill="#8fa3cc" transform="rotate(230)"/>
<rect x="20.5" y="-2.8" width="6.5" height="5.6" fill="#8fa3cc" transform="rotate(252.5)"/>
<rect x="20.5" y="-2.8" width="6.5" height="5.6" fill="#8fa3cc" transform="rotate(275)"/>
<rect x="20.5" y="-2.8" width="6.5" height="5.6" fill="#8fa3cc" transform="rotate(297.5)"/>
<rect x="20.5" y="-2.8" width="6.5" height="5.6" fill="#8fa3cc" transform="rotate(320)"/>
<rect x="20.5" y="-2.8" width="6.5" height="5.6" fill="#8fa3cc" transform="rotate(342.5)"/>
<circle r="18.5" fill="#83501a"/>
<rect x="-8.76" y="-9.66" width="6.5" height="3" fill="#d9ae70" transform="rotate(24.99 -5.56 -8.16)"/>
<rect x="-4.91" y="4.46" width="6.5" height="3" fill="#8b9cc2" transform="rotate(138.23 -1.71 5.96)"/>
<rect x="3.78" y="5.53" width="6.5" height="3" fill="#d9ae70" transform="rotate(120.64 6.98 7.03)"/>
<rect x="10.57" y="-2.02" width="6.5" height="3" fill="#8b9cc2" transform="rotate(6.01 13.77 -0.52)"/>
<rect x="-0.7" y="12.09" width="6.5" height="3" fill="#d9ae70" transform="rotate(150.97 2.5 13.59)"/>
<rect x="-9.25" y="-6.07" width="6.5" height="3" fill="#8b9cc2" transform="rotate(40.55 -6.05 -4.57)"/>
<rect x="0.15" y="-2.43" width="6.5" height="3" fill="#d9ae70" transform="rotate(14.36 3.35 -0.93)"/>
<rect x="5.23" y="-6.16" width="6.5" height="3" fill="#8b9cc2" transform="rotate(143.51 8.43 -4.66)"/>
<rect x="7.39" y="-9.95" width="6.5" height="3" fill="#d9ae70" transform="rotate(154.49 10.59 -8.45)"/>
<rect x="4.05" y="7.03" width="6.5" height="3" fill="#8b9cc2" transform="rotate(106.06 7.25 8.53)"/>
<rect x="-12.06" y="3.13" width="6.5" height="3" fill="#d9ae70" transform="rotate(45.61 -8.86 4.63)"/>
<rect x="-12.68" y="-10.96" width="6.5" height="3" fill="#8b9cc2" transform="rotate(155.43 -9.48 -9.46)"/>
<rect x="-11.5" y="1.05" width="6.5" height="3" fill="#d9ae70" transform="rotate(14.71 -8.3 2.55)"/>
<rect x="2.59" y="7.48" width="6.5" height="3" fill="#8b9cc2" transform="rotate(169 5.79 8.98)"/>
<rect x="5.17" y="-3.66" width="6.5" height="3" fill="#d9ae70" transform="rotate(168.53 8.37 -2.16)"/>
<rect x="-1.06" y="4.01" width="6.5" height="3" fill="#8b9cc2" transform="rotate(172.5 2.14 5.51)"/>
<rect x="-5.02" y="10.99" width="6.5" height="3" fill="#d9ae70" transform="rotate(121.32 -1.82 12.49)"/>
<rect x="-11.93" y="7.96" width="6.5" height="3" fill="#8b9cc2" transform="rotate(56.83 -8.73 9.46)"/>
<rect x="-5.5" y="-2.61" width="6.5" height="3" fill="#d9ae70" transform="rotate(111.9 -2.3 -1.11)"/>
<rect x="-12.05" y="3.8" width="6.5" height="3" fill="#8b9cc2" transform="rotate(153.95 -8.85 5.3)"/>
<rect x="-5.34" y="7.37" width="6.5" height="3" fill="#d9ae70" transform="rotate(38.64 -2.14 8.87)"/>
<rect x="6.38" y="-8.21" width="6.5" height="3" fill="#8b9cc2" transform="rotate(131.11 9.58 -6.71)"/>
<rect x="-12.98" y="-4.13" width="6.5" height="3" fill="#d9ae70" transform="rotate(165.14 -9.78 -2.63)"/>
<rect x="6.34" y="-7.1" width="6.5" height="3" fill="#8b9cc2" transform="rotate(6.45 9.54 -5.6)"/>
<ellipse cx="-17.61" cy="12.33" rx="13" ry="11.5" fill="#e6822b" transform="rotate(235 -17.61 12.33)"/>
</g>
<g transform="translate(384.4,528) scale(0.75) rotate(0)">
<circle r="17" fill="#f0b95f"/><circle cx="-1" cy="0" r="13" fill="#f3c270"/>
<path d="M-8,-14.5 Q0,-17.5 9,-13" stroke="#e3874a" stroke-width="2.2" fill="none"/>
<path d="M-9,-11 C-5,-1 3,5 16,6" stroke="#dc8228" stroke-width="2.8" fill="none"/>
<path d="M-5,13.5 C3,14 10,12 16,6" stroke="#de8a30" stroke-width="2.4" fill="none"/>
<ellipse cx="-5.5" cy="1.5" rx="1.7" ry="2.6" fill="#3f8f78"/>
<circle cx="-13" cy="-4.5" r="1.6" fill="#7a9a6a"/><circle cx="2" cy="-8.5" r="1.6" fill="#8a9a80"/>
<ellipse cx="12" cy="-4" rx="1.8" ry="2.4" fill="#9ab070"/><ellipse cx="10" cy="0" rx="1.6" ry="2.4" fill="#8aa860"/>
<circle cx="-8" cy="12.5" r="2" fill="#4f9a78"/>
</g>
<g transform="translate(450.7,543.2) scale(0.99) rotate(-30)">
<circle r="17" fill="#f0b95f"/><circle cx="-1" cy="0" r="13" fill="#f3c270"/>
<path d="M-8,-14.5 Q0,-17.5 9,-13" stroke="#e3874a" stroke-width="2.2" fill="none"/>
<path d="M-9,-11 C-5,-1 3,5 16,6" stroke="#dc8228" stroke-width="2.8" fill="none"/>
<path d="M-5,13.5 C3,14 10,12 16,6" stroke="#de8a30" stroke-width="2.4" fill="none"/>
<ellipse cx="-5.5" cy="1.5" rx="1.7" ry="2.6" fill="#3f8f78"/>
<circle cx="-13" cy="-4.5" r="1.6" fill="#7a9a6a"/><circle cx="2" cy="-8.5" r="1.6" fill="#8a9a80"/>
<ellipse cx="12" cy="-4" rx="1.8" ry="2.4" fill="#9ab070"/><ellipse cx="10" cy="0" rx="1.6" ry="2.4" fill="#8aa860"/>
<circle cx="-8" cy="12.5" r="2" fill="#4f9a78"/>
</g>
<g transform="translate(431.3,595.2) scale(0.55)">
<circle r="28" fill="#f2c064"/>
<rect x="20.5" y="-2.8" width="6.5" height="5.6" fill="#8fa3cc" transform="rotate(5)"/>
<rect x="20.5" y="-2.8" width="6.5" height="5.6" fill="#8fa3cc" transform="rotate(27.5)"/>
<rect x="20.5" y="-2.8" width="6.5" height="5.6" fill="#8fa3cc" transform="rotate(50)"/>
<rect x="20.5" y="-2.8" width="6.5" height="5.6" fill="#8fa3cc" transform="rotate(72.5)"/>
<rect x="20.5" y="-2.8" width="6.5" height="5.6" fill="#8fa3cc" transform="rotate(95)"/>
<rect x="20.5" y="-2.8" width="6.5" height="5.6" fill="#8fa3cc" transform="rotate(117.5)"/>
<rect x="20.5" y="-2.8" width="6.5" height="5.6" fill="#8fa3cc" transform="rotate(140)"/>
<rect x="20.5" y="-2.8" width="6.5" height="5.6" fill="#8fa3cc" transform="rotate(162.5)"/>
<rect x="20.5" y="-2.8" width="6.5" height="5.6" fill="#8fa3cc" transform="rotate(185)"/>
<rect x="20.5" y="-2.8" width="6.5" height="5.6" fill="#8fa3cc" transform="rotate(207.5)"/>
<rect x="20.5" y="-2.8" width="6.5" height="5.6" fill="#8fa3cc" transform="rotate(230)"/>
<rect x="20.5" y="-2.8" width="6.5" height="5.6" fill="#8fa3cc" transform="rotate(252.5)"/>
<rect x="20.5" y="-2.8" width="6.5" height="5.6" fill="#8fa3cc" transform="rotate(275)"/>
<rect x="20.5" y="-2.8" width="6.5" height="5.6" fill="#8fa3cc" transform="rotate(297.5)"/>
<rect x="20.5" y="-2.8" width="6.5" height="5.6" fill="#8fa3cc" transform="rotate(320)"/>
<rect x="20.5" y="-2.8" width="6.5" height="5.6" fill="#8fa3cc" transform="rotate(342.5)"/>
<circle r="18.5" fill="#83501a"/>
<rect x="-6.14" y="5.87" width="6.5" height="3" fill="#d9ae70" transform="rotate(115.12 -2.94 7.37)"/>
<rect x="-14.26" y="-4.85" width="6.5" height="3" fill="#8b9cc2" transform="rotate(5.89 -11.06 -3.35)"/>
<rect x="-4.2" y="10.41" width="6.5" height="3" fill="#d9ae70" transform="rotate(55.91 -1 11.91)"/>
<rect x="4.48" y="-3.75" width="6.5" height="3" fill="#8b9cc2" transform="rotate(175.28 7.68 -2.25)"/>
<rect x="-2.71" y="4.27" width="6.5" height="3" fill="#d9ae70" transform="rotate(158.22 0.49 5.77)"/>
<rect x="7.57" y="7.19" width="6.5" height="3" fill="#8b9cc2" transform="rotate(7.7 10.77 8.69)"/>
<rect x="-6.84" y="3.84" width="6.5" height="3" fill="#d9ae70" transform="rotate(178.87 -3.64 5.34)"/>
<rect x="-7.32" y="-8.41" width="6.5" height="3" fill="#8b9cc2" transform="rotate(150.11 -4.12 -6.91)"/>
<rect x="2.67" y="-3.44" width="6.5" height="3" fill="#d9ae70" transform="rotate(146.33 5.87 -1.94)"/>
<rect x="-4.36" y="1.37" width="6.5" height="3" fill="#8b9cc2" transform="rotate(5.88 -1.16 2.87)"/>
<rect x="1.67" y="1.99" width="6.5" height="3" fill="#d9ae70" transform="rotate(138.19 4.87 3.49)"/>
<rect x="-15.57" y="-8.63" width="6.5" height="3" fill="#8b9cc2" transform="rotate(138.11 -12.37 -7.13)"/>
<rect x="1.79" y="-10.59" width="6.5" height="3" fill="#d9ae70" transform="rotate(138.11 4.99 -9.09)"/>
<rect x="0.97" y="11.8" width="6.5" height="3" fill="#8b9cc2" transform="rotate(14.28 4.17 13.3)"/>
<rect x="-4.85" y="6.23" width="6.5" height="3" fill="#d9ae70" transform="rotate(173.03 -1.65 7.73)"/>
<rect x="2.31" y="-7.68" width="6.5" height="3" fill="#8b9cc2" transform="rotate(81.81 5.51 -6.18)"/>
<rect x="-9.67" y="6.25" width="6.5" height="3" fill="#d9ae70" transform="rotate(31.76 -6.47 7.75)"/>
<rect x="8.77" y="-1.81" width="6.5" height="3" fill="#8b9cc2" transform="rotate(86.53 11.97 -0.31)"/>
<rect x="-10.77" y="-12.55" width="6.5" height="3" fill="#d9ae70" transform="rotate(73.56 -7.57 -11.05)"/>
<rect x="-6.52" y="-2.12" width="6.5" height="3" fill="#8b9cc2" transform="rotate(149.31 -3.32 -0.62)"/>
<rect x="-0.61" y="-5.9" width="6.5" height="3" fill="#d9ae70" transform="rotate(92.8 2.59 -4.4)"/>
<rect x="-6.52" y="2.03" width="6.5" height="3" fill="#8b9cc2" transform="rotate(162.09 -3.32 3.53)"/>
<rect x="1.95" y="-1.03" width="6.5" height="3" fill="#d9ae70" transform="rotate(26.92 5.15 0.47)"/>
<rect x="7.52" y="-5.95" width="6.5" height="3" fill="#8b9cc2" transform="rotate(70.19 10.72 -4.45)"/>
<ellipse cx="-5.93" cy="-20.67" rx="13" ry="11.5" fill="#e6822b" transform="rotate(-16 -5.93 -20.67)"/>
</g>
<g transform="translate(473,395.5) scale(0.56)">
<circle r="28" fill="#f2c064"/>
<rect x="20.5" y="-2.8" width="6.5" height="5.6" fill="#8fa3cc" transform="rotate(5)"/>
<rect x="20.5" y="-2.8" width="6.5" height="5.6" fill="#8fa3cc" transform="rotate(27.5)"/>
<rect x="20.5" y="-2.8" width="6.5" height="5.6" fill="#8fa3cc" transform="rotate(50)"/>
<rect x="20.5" y="-2.8" width="6.5" height="5.6" fill="#8fa3cc" transform="rotate(72.5)"/>
<rect x="20.5" y="-2.8" width="6.5" height="5.6" fill="#8fa3cc" transform="rotate(95)"/>
<rect x="20.5" y="-2.8" width="6.5" height="5.6" fill="#8fa3cc" transform="rotate(117.5)"/>
<rect x="20.5" y="-2.8" width="6.5" height="5.6" fill="#8fa3cc" transform="rotate(140)"/>
<rect x="20.5" y="-2.8" width="6.5" height="5.6" fill="#8fa3cc" transform="rotate(162.5)"/>
<rect x="20.5" y="-2.8" width="6.5" height="5.6" fill="#8fa3cc" transform="rotate(185)"/>
<rect x="20.5" y="-2.8" width="6.5" height="5.6" fill="#8fa3cc" transform="rotate(207.5)"/>
<rect x="20.5" y="-2.8" width="6.5" height="5.6" fill="#8fa3cc" transform="rotate(230)"/>
<rect x="20.5" y="-2.8" width="6.5" height="5.6" fill="#8fa3cc" transform="rotate(252.5)"/>
<rect x="20.5" y="-2.8" width="6.5" height="5.6" fill="#8fa3cc" transform="rotate(275)"/>
<rect x="20.5" y="-2.8" width="6.5" height="5.6" fill="#8fa3cc" transform="rotate(297.5)"/>
<rect x="20.5" y="-2.8" width="6.5" height="5.6" fill="#8fa3cc" transform="rotate(320)"/>
<rect x="20.5" y="-2.8" width="6.5" height="5.6" fill="#8fa3cc" transform="rotate(342.5)"/>
<circle r="18.5" fill="#83501a"/>
<rect x="-5.94" y="-0.88" width="6.5" height="3" fill="#d9ae70" transform="rotate(142.69 -2.74 0.62)"/>
<rect x="5.32" y="-3.8" width="6.5" height="3" fill="#8b9cc2" transform="rotate(5.83 8.52 -2.3)"/>
<rect x="-3.63" y="-4.01" width="6.5" height="3" fill="#d9ae70" transform="rotate(55.49 -0.43 -2.51)"/>
<rect x="-10.67" y="6.43" width="6.5" height="3" fill="#8b9cc2" transform="rotate(146.51 -7.47 7.93)"/>
<rect x="-15.2" y="-1.04" width="6.5" height="3" fill="#d9ae70" transform="rotate(64.25 -12 0.46)"/>
<rect x="0.06" y="-8.78" width="6.5" height="3" fill="#8b9cc2" transform="rotate(102.67 3.26 -7.28)"/>
<rect x="-3.78" y="-9.57" width="6.5" height="3" fill="#d9ae70" transform="rotate(166.02 -0.58 -8.07)"/>
<rect x="6.79" y="-1.61" width="6.5" height="3" fill="#8b9cc2" transform="rotate(170.27 9.99 -0.11)"/>
<rect x="-11.1" y="-7.23" width="6.5" height="3" fill="#d9ae70" transform="rotate(97.87 -7.9 -5.73)"/>
<rect x="4.24" y="6.21" width="6.5" height="3" fill="#8b9cc2" transform="rotate(51.3 7.44 7.71)"/>
<rect x="-3.62" y="-8.64" width="6.5" height="3" fill="#d9ae70" transform="rotate(96.24 -0.42 -7.14)"/>
<rect x="9.12" y="4.3" width="6.5" height="3" fill="#8b9cc2" transform="rotate(52.71 12.32 5.8)"/>
<rect x="0.9" y="-5" width="6.5" height="3" fill="#d9ae70" transform="rotate(7.42 4.1 -3.5)"/>
<rect x="-10.46" y="-6.46" width="6.5" height="3" fill="#8b9cc2" transform="rotate(81.92 -7.26 -4.96)"/>
<rect x="1.48" y="-8.62" width="6.5" height="3" fill="#d9ae70" transform="rotate(17.88 4.68 -7.12)"/>
<rect x="-2.54" y="-13.84" width="6.5" height="3" fill="#8b9cc2" transform="rotate(134.43 0.66 -12.34)"/>
<rect x="10.45" y="2.06" width="6.5" height="3" fill="#d9ae70" transform="rotate(19.21 13.65 3.56)"/>
<rect x="2.68" y="6.97" width="6.5" height="3" fill="#8b9cc2" transform="rotate(19.64 5.88 8.47)"/>
<rect x="1.43" y="-12.28" width="6.5" height="3" fill="#d9ae70" transform="rotate(138.7 4.63 -10.78)"/>
<rect x="-7.58" y="8.34" width="6.5" height="3" fill="#8b9cc2" transform="rotate(47.73 -4.38 9.84)"/>
<rect x="-5.78" y="3.57" width="6.5" height="3" fill="#d9ae70" transform="rotate(19.16 -2.58 5.07)"/>
<rect x="-1.55" y="1.34" width="6.5" height="3" fill="#8b9cc2" transform="rotate(25.06 1.65 2.84)"/>
<rect x="-10.77" y="-1.56" width="6.5" height="3" fill="#d9ae70" transform="rotate(156.87 -7.57 -0.06)"/>
<rect x="0.6" y="-11.7" width="6.5" height="3" fill="#8b9cc2" transform="rotate(39.3 3.8 -10.2)"/>
<ellipse cx="-10.75" cy="-18.62" rx="13" ry="11.5" fill="#e6822b" transform="rotate(-30 -10.75 -18.62)"/>
</g>
<g transform="translate(584,440.3) scale(0.67) rotate(0)">
<circle r="24.5" fill="#f2bd66"/><circle cx="-3" cy="3" r="18.5" fill="#f5c677"/>
<path d="M3,-17 C6,-22 13,-20 15,-13 C11,-12 7,-13 3,-17z" fill="#cf3b36"/>
<path d="M-12,-23 C-6,-25.5 0,-25 4,-24 L3,-21 C-2,-22 -7,-21 -11,-20z" fill="#ec9a92" opacity="0.8"/>
<path d="M-23,8 C-22,14 -19,18 -15,21 L-13,18 C-17,15 -19,12 -20,8z" fill="#ec9a92" opacity="0.7"/>
<ellipse cx="-13" cy="-6" rx="3" ry="3.8" fill="#3f78b5" transform="rotate(20 -13 -6)"/>
<ellipse cx="19.5" cy="-2" rx="3" ry="4.2" fill="#3fa36a"/>
<path d="M11,17 C14,13 17,10 20,8 C21,13 18,18 14,20z" fill="#1f8a6c"/>
<ellipse cx="-1" cy="20.5" rx="3.8" ry="2.8" fill="#38a36a"/>
</g>
<g transform="translate(564.6,516.7) scale(0.67)">
<circle r="28" fill="#f2c064"/>
<rect x="20.5" y="-2.8" width="6.5" height="5.6" fill="#8fa3cc" transform="rotate(5)"/>
<rect x="20.5" y="-2.8" width="6.5" height="5.6" fill="#8fa3cc" transform="rotate(27.5)"/>
<rect x="20.5" y="-2.8" width="6.5" height="5.6" fill="#8fa3cc" transform="rotate(50)"/>
<rect x="20.5" y="-2.8" width="6.5" height="5.6" fill="#8fa3cc" transform="rotate(72.5)"/>
<rect x="20.5" y="-2.8" width="6.5" height="5.6" fill="#8fa3cc" transform="rotate(95)"/>
<rect x="20.5" y="-2.8" width="6.5" height="5.6" fill="#8fa3cc" transform="rotate(117.5)"/>
<rect x="20.5" y="-2.8" width="6.5" height="5.6" fill="#8fa3cc" transform="rotate(140)"/>
<rect x="20.5" y="-2.8" width="6.5" height="5.6" fill="#8fa3cc" transform="rotate(162.5)"/>
<rect x="20.5" y="-2.8" width="6.5" height="5.6" fill="#8fa3cc" transform="rotate(185)"/>
<rect x="20.5" y="-2.8" width="6.5" height="5.6" fill="#8fa3cc" transform="rotate(207.5)"/>
<rect x="20.5" y="-2.8" width="6.5" height="5.6" fill="#8fa3cc" transform="rotate(230)"/>
<rect x="20.5" y="-2.8" width="6.5" height="5.6" fill="#8fa3cc" transform="rotate(252.5)"/>
<rect x="20.5" y="-2.8" width="6.5" height="5.6" fill="#8fa3cc" transform="rotate(275)"/>
<rect x="20.5" y="-2.8" width="6.5" height="5.6" fill="#8fa3cc" transform="rotate(297.5)"/>
<rect x="20.5" y="-2.8" width="6.5" height="5.6" fill="#8fa3cc" transform="rotate(320)"/>
<rect x="20.5" y="-2.8" width="6.5" height="5.6" fill="#8fa3cc" transform="rotate(342.5)"/>
<circle r="18.5" fill="#83501a"/>
<rect x="3.86" y="2.61" width="6.5" height="3" fill="#d9ae70" transform="rotate(125.18 7.06 4.11)"/>
<rect x="4.81" y="-9.67" width="6.5" height="3" fill="#8b9cc2" transform="rotate(168.74 8.01 -8.17)"/>
<rect x="7.35" y="3.53" width="6.5" height="3" fill="#d9ae70" transform="rotate(170.54 10.55 5.03)"/>
<rect x="-3.82" y="11.12" width="6.5" height="3" fill="#8b9cc2" transform="rotate(5.71 -0.62 12.62)"/>
<rect x="-0.08" y="-9.27" width="6.5" height="3" fill="#d9ae70" transform="rotate(77.74 3.12 -7.77)"/>
<rect x="6.63" y="-8.31" width="6.5" height="3" fill="#8b9cc2" transform="rotate(164.8 9.83 -6.81)"/>
<rect x="3.12" y="-5.08" width="6.5" height="3" fill="#d9ae70" transform="rotate(53.68 6.32 -3.58)"/>
<rect x="-0.41" y="1.46" width="6.5" height="3" fill="#8b9cc2" transform="rotate(59.53 2.79 2.96)"/>
<rect x="-9.35" y="-13.06" width="6.5" height="3" fill="#d9ae70" transform="rotate(33.96 -6.15 -11.56)"/>
<rect x="0.5" y="5.19" width="6.5" height="3" fill="#8b9cc2" transform="rotate(27.31 3.7 6.69)"/>
<rect x="1.32" y="-0.06" width="6.5" height="3" fill="#d9ae70" transform="rotate(124.63 4.52 1.44)"/>
<rect x="-9.4" y="-13.73" width="6.5" height="3" fill="#8b9cc2" transform="rotate(118.2 -6.2 -12.23)"/>
<rect x="-7.49" y="-2.64" width="6.5" height="3" fill="#d9ae70" transform="rotate(141.3 -4.29 -1.14)"/>
<rect x="3.64" y="-9.17" width="6.5" height="3" fill="#8b9cc2" transform="rotate(171.42 6.84 -7.67)"/>
<rect x="1.49" y="7.92" width="6.5" height="3" fill="#d9ae70" transform="rotate(128.77 4.69 9.42)"/>
<rect x="7.26" y="7.38" width="6.5" height="3" fill="#8b9cc2" transform="rotate(166.1 10.46 8.88)"/>
<rect x="8.24" y="-4.42" width="6.5" height="3" fill="#d9ae70" transform="rotate(129.04 11.44 -2.92)"/>
<rect x="-1.89" y="11.5" width="6.5" height="3" fill="#8b9cc2" transform="rotate(63.79 1.31 13)"/>
<rect x="3.64" y="9.74" width="6.5" height="3" fill="#d9ae70" transform="rotate(110.14 6.84 11.24)"/>
<rect x="-5.17" y="-4.78" width="6.5" height="3" fill="#8b9cc2" transform="rotate(1.51 -1.97 -3.28)"/>
<rect x="-9.16" y="-1.84" width="6.5" height="3" fill="#d9ae70" transform="rotate(153.23 -5.96 -0.34)"/>
<rect x="-4.24" y="8.22" width="6.5" height="3" fill="#8b9cc2" transform="rotate(105.62 -1.04 9.72)"/>
<rect x="-9.64" y="-0.33" width="6.5" height="3" fill="#d9ae70" transform="rotate(142.47 -6.44 1.17)"/>
<rect x="2.23" y="10.35" width="6.5" height="3" fill="#8b9cc2" transform="rotate(7.39 5.43 11.85)"/>
<ellipse cx="20.2" cy="-7.35" rx="13" ry="11.5" fill="#e6822b" transform="rotate(70 20.2 -7.35)"/>
</g>
<g transform="translate(593,565.6) scale(0.73) rotate(0)">
<circle r="24.5" fill="#f2bd66"/><circle cx="-3" cy="3" r="18.5" fill="#f5c677"/>
<path d="M3,-17 C6,-22 13,-20 15,-13 C11,-12 7,-13 3,-17z" fill="#cf3b36"/>
<path d="M-12,-23 C-6,-25.5 0,-25 4,-24 L3,-21 C-2,-22 -7,-21 -11,-20z" fill="#ec9a92" opacity="0.8"/>
<path d="M-23,8 C-22,14 -19,18 -15,21 L-13,18 C-17,15 -19,12 -20,8z" fill="#ec9a92" opacity="0.7"/>
<ellipse cx="-13" cy="-6" rx="3" ry="3.8" fill="#3f78b5" transform="rotate(20 -13 -6)"/>
<ellipse cx="19.5" cy="-2" rx="3" ry="4.2" fill="#3fa36a"/>
<path d="M11,17 C14,13 17,10 20,8 C21,13 18,18 14,20z" fill="#1f8a6c"/>
<ellipse cx="-1" cy="20.5" rx="3.8" ry="2.8" fill="#38a36a"/>
</g>
<g transform="translate(647.1,551.4) scale(1) rotate(0)">
<circle r="17" fill="#f0b95f"/><circle cx="-1" cy="0" r="13" fill="#f3c270"/>
<path d="M-8,-14.5 Q0,-17.5 9,-13" stroke="#e3874a" stroke-width="2.2" fill="none"/>
<path d="M-9,-11 C-5,-1 3,5 16,6" stroke="#dc8228" stroke-width="2.8" fill="none"/>
<path d="M-5,13.5 C3,14 10,12 16,6" stroke="#de8a30" stroke-width="2.4" fill="none"/>
<ellipse cx="-5.5" cy="1.5" rx="1.7" ry="2.6" fill="#3f8f78"/>
<circle cx="-13" cy="-4.5" r="1.6" fill="#7a9a6a"/><circle cx="2" cy="-8.5" r="1.6" fill="#8a9a80"/>
<ellipse cx="12" cy="-4" rx="1.8" ry="2.4" fill="#9ab070"/><ellipse cx="10" cy="0" rx="1.6" ry="2.4" fill="#8aa860"/>
<circle cx="-8" cy="12.5" r="2" fill="#4f9a78"/>
</g>
<g transform="translate(551.3,599.3) scale(1) rotate(0)">
<circle r="17" fill="#f0b95f"/><circle cx="-1" cy="0" r="13" fill="#f3c270"/>
<path d="M-8,-14.5 Q0,-17.5 9,-13" stroke="#e3874a" stroke-width="2.2" fill="none"/>
<path d="M-9,-11 C-5,-1 3,5 16,6" stroke="#dc8228" stroke-width="2.8" fill="none"/>
<path d="M-5,13.5 C3,14 10,12 16,6" stroke="#de8a30" stroke-width="2.4" fill="none"/>
<ellipse cx="-5.5" cy="1.5" rx="1.7" ry="2.6" fill="#3f8f78"/>
<circle cx="-13" cy="-4.5" r="1.6" fill="#7a9a6a"/><circle cx="2" cy="-8.5" r="1.6" fill="#8a9a80"/>
<ellipse cx="12" cy="-4" rx="1.8" ry="2.4" fill="#9ab070"/><ellipse cx="10" cy="0" rx="1.6" ry="2.4" fill="#8aa860"/>
<circle cx="-8" cy="12.5" r="2" fill="#4f9a78"/>
</g>
<g transform="translate(685.8,581) scale(0.65) rotate(0)">
<circle r="24.5" fill="#f2bd66"/><circle cx="-3" cy="3" r="18.5" fill="#f5c677"/>
<path d="M3,-17 C6,-22 13,-20 15,-13 C11,-12 7,-13 3,-17z" fill="#cf3b36"/>
<path d="M-12,-23 C-6,-25.5 0,-25 4,-24 L3,-21 C-2,-22 -7,-21 -11,-20z" fill="#ec9a92" opacity="0.8"/>
<path d="M-23,8 C-22,14 -19,18 -15,21 L-13,18 C-17,15 -19,12 -20,8z" fill="#ec9a92" opacity="0.7"/>
<ellipse cx="-13" cy="-6" rx="3" ry="3.8" fill="#3f78b5" transform="rotate(20 -13 -6)"/>
<ellipse cx="19.5" cy="-2" rx="3" ry="4.2" fill="#3fa36a"/>
<path d="M11,17 C14,13 17,10 20,8 C21,13 18,18 14,20z" fill="#1f8a6c"/>
<ellipse cx="-1" cy="20.5" rx="3.8" ry="2.8" fill="#38a36a"/>
</g>
<g transform="translate(732.7,557.5) scale(0.69)">
<circle r="28" fill="#f2c064"/>
<rect x="20.5" y="-2.8" width="6.5" height="5.6" fill="#8fa3cc" transform="rotate(5)"/>
<rect x="20.5" y="-2.8" width="6.5" height="5.6" fill="#8fa3cc" transform="rotate(27.5)"/>
<rect x="20.5" y="-2.8" width="6.5" height="5.6" fill="#8fa3cc" transform="rotate(50)"/>
<rect x="20.5" y="-2.8" width="6.5" height="5.6" fill="#8fa3cc" transform="rotate(72.5)"/>
<rect x="20.5" y="-2.8" width="6.5" height="5.6" fill="#8fa3cc" transform="rotate(95)"/>
<rect x="20.5" y="-2.8" width="6.5" height="5.6" fill="#8fa3cc" transform="rotate(117.5)"/>
<rect x="20.5" y="-2.8" width="6.5" height="5.6" fill="#8fa3cc" transform="rotate(140)"/>
<rect x="20.5" y="-2.8" width="6.5" height="5.6" fill="#8fa3cc" transform="rotate(162.5)"/>
<rect x="20.5" y="-2.8" width="6.5" height="5.6" fill="#8fa3cc" transform="rotate(185)"/>
<rect x="20.5" y="-2.8" width="6.5" height="5.6" fill="#8fa3cc" transform="rotate(207.5)"/>
<rect x="20.5" y="-2.8" width="6.5" height="5.6" fill="#8fa3cc" transform="rotate(230)"/>
<rect x="20.5" y="-2.8" width="6.5" height="5.6" fill="#8fa3cc" transform="rotate(252.5)"/>
<rect x="20.5" y="-2.8" width="6.5" height="5.6" fill="#8fa3cc" transform="rotate(275)"/>
<rect x="20.5" y="-2.8" width="6.5" height="5.6" fill="#8fa3cc" transform="rotate(297.5)"/>
<rect x="20.5" y="-2.8" width="6.5" height="5.6" fill="#8fa3cc" transform="rotate(320)"/>
<rect x="20.5" y="-2.8" width="6.5" height="5.6" fill="#8fa3cc" transform="rotate(342.5)"/>
<circle r="18.5" fill="#83501a"/>
<rect x="-10.44" y="-1.92" width="6.5" height="3" fill="#d9ae70" transform="rotate(80.9 -7.24 -0.42)"/>
<rect x="6.74" y="6.03" width="6.5" height="3" fill="#8b9cc2" transform="rotate(35.66 9.94 7.53)"/>
<rect x="8.99" y="-3.5" width="6.5" height="3" fill="#d9ae70" transform="rotate(163.79 12.19 -2)"/>
<rect x="-4.34" y="2.72" width="6.5" height="3" fill="#8b9cc2" transform="rotate(168.26 -1.14 4.22)"/>
<rect x="0.76" y="1.6" width="6.5" height="3" fill="#d9ae70" transform="rotate(142.37 3.96 3.1)"/>
<rect x="-5.8" y="-3.44" width="6.5" height="3" fill="#8b9cc2" transform="rotate(160.22 -2.6 -1.94)"/>
<rect x="-5.13" y="-8.22" width="6.5" height="3" fill="#d9ae70" transform="rotate(34.6 -1.93 -6.72)"/>
<rect x="2.95" y="-1.02" width="6.5" height="3" fill="#8b9cc2" transform="rotate(114.41 6.15 0.48)"/>
<rect x="-0.33" y="-0.78" width="6.5" height="3" fill="#d9ae70" transform="rotate(44.76 2.87 0.72)"/>
<rect x="-3.89" y="8.92" width="6.5" height="3" fill="#8b9cc2" transform="rotate(26.38 -0.69 10.42)"/>
<rect x="2.56" y="-8.9" width="6.5" height="3" fill="#d9ae70" transform="rotate(29.05 5.76 -7.4)"/>
<rect x="-2.99" y="-13.94" width="6.5" height="3" fill="#8b9cc2" transform="rotate(174.45 0.21 -12.44)"/>
<rect x="-6.15" y="-5.42" width="6.5" height="3" fill="#d9ae70" transform="rotate(127.28 -2.95 -3.92)"/>
<rect x="-4.62" y="10.55" width="6.5" height="3" fill="#8b9cc2" transform="rotate(80.22 -1.42 12.05)"/>
<rect x="0.55" y="-4.34" width="6.5" height="3" fill="#d9ae70" transform="rotate(9.1 3.75 -2.84)"/>
<rect x="2.18" y="-10.78" width="6.5" height="3" fill="#8b9cc2" transform="rotate(128.99 5.38 -9.28)"/>
<rect x="-11.01" y="8.98" width="6.5" height="3" fill="#d9ae70" transform="rotate(131.89 -7.81 10.48)"/>
<rect x="-0.4" y="-13.15" width="6.5" height="3" fill="#8b9cc2" transform="rotate(48.11 2.8 -11.65)"/>
<rect x="0.07" y="-1.04" width="6.5" height="3" fill="#d9ae70" transform="rotate(153.19 3.27 0.46)"/>
<rect x="8.42" y="-0.25" width="6.5" height="3" fill="#8b9cc2" transform="rotate(118.53 11.62 1.25)"/>
<rect x="-1.58" y="-3.85" width="6.5" height="3" fill="#d9ae70" transform="rotate(153.06 1.62 -2.35)"/>
<rect x="-5.99" y="-7.91" width="6.5" height="3" fill="#8b9cc2" transform="rotate(145.71 -2.79 -6.41)"/>
<rect x="-6.39" y="-4.32" width="6.5" height="3" fill="#d9ae70" transform="rotate(36.7 -3.19 -2.82)"/>
<rect x="-1.39" y="11.36" width="6.5" height="3" fill="#8b9cc2" transform="rotate(170.19 1.81 12.86)"/>
<ellipse cx="12.33" cy="-17.61" rx="13" ry="11.5" fill="#e6822b" transform="rotate(35 12.33 -17.61)"/>
</g>
<rect x="668" y="522" width="2" height="117" fill="#ffb3b4" opacity="0.5"/>
<path d="M62,140.5 H668.5 V520 H761.5 M761.5,640.5 H153.5 V266 H62" fill="none" stroke="#1f3a66" stroke-width="5.2" stroke-linejoin="round"/>
<g font-family="Liberation Sans, sans-serif" fill="#000">
<g stroke="#fff" stroke-width="1.2">
<text transform="translate(54.3,101.2) scale(0.8,1)" font-size="77" font-weight="bold">(</text>
<text transform="translate(133,101.2) scale(0.85,1)" font-size="77" font-weight="bold">)</text>
<text transform="translate(78.8,102) scale(0.99,1)" font-size="74.6" font-weight="bold">A</text>
<text transform="translate(54.3,738.6) scale(0.8,1)" font-size="77" font-weight="bold">(</text>
<text transform="translate(131.8,738.6) scale(0.85,1)" font-size="77" font-weight="bold">)</text>
<text transform="translate(80.3,740.8) scale(0.85,1)" font-size="75.7" font-weight="bold">B</text>
<text transform="translate(850.7,738.9) scale(0.8,1)" font-size="77" font-weight="bold">(</text>
<text transform="translate(925,738.9) scale(0.85,1)" font-size="77" font-weight="bold">)</text>
<text transform="translate(876.4,739.5) scale(0.8,1)" font-size="76.1" font-weight="bold">C</text>
</g>
<g stroke="#fff" stroke-width="0.9">
<text x="1020" y="92" font-size="43.5" font-weight="bold" text-anchor="middle">Microfluidic</text>
<text x="1020" y="136.2" font-size="43.5" font-weight="bold" text-anchor="middle">device</text>
</g>
<text transform="translate(1338.7,220) scale(0.87,1)" font-size="49.4" font-style="italic">EV</text>
<text transform="translate(1347.5,390.5) scale(1.02,1)" font-size="47.5" font-style="italic">Lipo-,</text>
<text transform="translate(1348.5,442) scale(1.03,1)" font-size="47.3" font-style="italic">Proteins</text>
<text transform="translate(1089.4,556.8) scale(1.08,1)" font-size="44.1" font-style="italic">AlexaFluor 488-</text>
<text transform="translate(1086.2,608) scale(1.07,1)" font-size="43.8" font-style="italic">CD63 Ab</text>
</g>
<g transform="translate(1247,207.6) scale(1.08)">
<circle r="44" fill="#e6f3da" opacity="0.75"/>
<circle r="43" fill="none" stroke="#d6ebc6" stroke-width="1.5"/>
<use href="#spk" transform="rotate(-100)"/>
<use href="#spk" transform="rotate(-55)"/>
<use href="#spk" transform="rotate(-10)"/>
<use href="#spk" transform="rotate(35)"/>
<use href="#spk" transform="rotate(80)"/>
<use href="#spk" transform="rotate(125)"/>
<use href="#spk" transform="rotate(170)"/>
<use href="#spk" transform="rotate(215)"/>
<circle r="36" fill="#93c47d"/>
<use href="#rna" transform="rotate(0)"/>
</g>
<g transform="translate(1221.9,408.1) scale(1) rotate(0)">
<circle r="24.5" fill="#f2bd66"/><circle cx="-3" cy="3" r="18.5" fill="#f5c677"/>
<path d="M3,-17 C6,-22 13,-20 15,-13 C11,-12 7,-13 3,-17z" fill="#cf3b36"/>
<path d="M-12,-23 C-6,-25.5 0,-25 4,-24 L3,-21 C-2,-22 -7,-21 -11,-20z" fill="#ec9a92" opacity="0.8"/>
<path d="M-23,8 C-22,14 -19,18 -15,21 L-13,18 C-17,15 -19,12 -20,8z" fill="#ec9a92" opacity="0.7"/>
<ellipse cx="-13" cy="-6" rx="3" ry="3.8" fill="#3f78b5" transform="rotate(20 -13 -6)"/>
<ellipse cx="19.5" cy="-2" rx="3" ry="4.2" fill="#3fa36a"/>
<path d="M11,17 C14,13 17,10 20,8 C21,13 18,18 14,20z" fill="#1f8a6c"/>
<ellipse cx="-1" cy="20.5" rx="3.8" ry="2.8" fill="#38a36a"/>
</g>
<g transform="translate(1282.7,368.4) scale(1.01)">
<circle r="28" fill="#f2c064"/>
<rect x="20.5" y="-2.8" width="6.5" height="5.6" fill="#8fa3cc" transform="rotate(5)"/>
<rect x="20.5" y="-2.8" width="6.5" height="5.6" fill="#8fa3cc" transform="rotate(27.5)"/>
<rect x="20.5" y="-2.8" width="6.5" height="5.6" fill="#8fa3cc" transform="rotate(50)"/>
<rect x="20.5" y="-2.8" width="6.5" height="5.6" fill="#8fa3cc" transform="rotate(72.5)"/>
<rect x="20.5" y="-2.8" width="6.5" height="5.6" fill="#8fa3cc" transform="rotate(95)"/>
<rect x="20.5" y="-2.8" width="6.5" height="5.6" fill="#8fa3cc" transform="rotate(117.5)"/>
<rect x="20.5" y="-2.8" width="6.5" height="5.6" fill="#8fa3cc" transform="rotate(140)"/>
<rect x="20.5" y="-2.8" width="6.5" height="5.6" fill="#8fa3cc" transform="rotate(162.5)"/>
<rect x="20.5" y="-2.8" width="6.5" height="5.6" fill="#8fa3cc" transform="rotate(185)"/>
<rect x="20.5" y="-2.8" width="6.5" height="5.6" fill="#8fa3cc" transform="rotate(207.5)"/>
<rect x="20.5" y="-2.8" width="6.5" height="5.6" fill="#8fa3cc" transform="rotate(230)"/>
<rect x="20.5" y="-2.8" width="6.5" height="5.6" fill="#8fa3cc" transform="rotate(252.5)"/>
<rect x="20.5" y="-2.8" width="6.5" height="5.6" fill="#8fa3cc" transform="rotate(275)"/>
<rect x="20.5" y="-2.8" width="6.5" height="5.6" fill="#8fa3cc" transform="rotate(297.5)"/>
<rect x="20.5" y="-2.8" width="6.5" height="5.6" fill="#8fa3cc" transform="rotate(320)"/>
<rect x="20.5" y="-2.8" width="6.5" height="5.6" fill="#8fa3cc" transform="rotate(342.5)"/>
<circle r="18.5" fill="#83501a"/>
<rect x="-13.22" y="1.07" width="6.5" height="3" fill="#d9ae70" transform="rotate(24.94 -10.02 2.57)"/>
<rect x="-3.51" y="2.2" width="6.5" height="3" fill="#8b9cc2" transform="rotate(115.62 -0.31 3.7)"/>
<rect x="7.73" y="5.33" width="6.5" height="3" fill="#d9ae70" transform="rotate(82.84 10.93 6.83)"/>
<rect x="-9.19" y="-3.8" width="6.5" height="3" fill="#8b9cc2" transform="rotate(64.85 -5.99 -2.3)"/>
<rect x="-4.67" y="10.28" width="6.5" height="3" fill="#d9ae70" transform="rotate(146 -1.47 11.78)"/>
<rect x="2.45" y="-0.94" width="6.5" height="3" fill="#8b9cc2" transform="rotate(3.02 5.65 0.56)"/>
<rect x="-0.71" y="-1.38" width="6.5" height="3" fill="#d9ae70" transform="rotate(1.71 2.49 0.12)"/>
<rect x="-1.26" y="-5.52" width="6.5" height="3" fill="#8b9cc2" transform="rotate(164.64 1.94 -4.02)"/>
<rect x="-6.81" y="12.21" width="6.5" height="3" fill="#d9ae70" transform="rotate(100.41 -3.61 13.71)"/>
<rect x="-0.18" y="-9.72" width="6.5" height="3" fill="#8b9cc2" transform="rotate(142.32 3.02 -8.22)"/>
<rect x="3.71" y="2.11" width="6.5" height="3" fill="#d9ae70" transform="rotate(139.93 6.91 3.61)"/>
<rect x="-1.61" y="-0.21" width="6.5" height="3" fill="#8b9cc2" transform="rotate(65.13 1.59 1.29)"/>
<rect x="-2.71" y="2.13" width="6.5" height="3" fill="#d9ae70" transform="rotate(100.57 0.49 3.63)"/>
<rect x="1.59" y="-3.9" width="6.5" height="3" fill="#8b9cc2" transform="rotate(135.19 4.79 -2.4)"/>
<rect x="6.73" y="3.93" width="6.5" height="3" fill="#d9ae70" transform="rotate(88.15 9.93 5.43)"/>
<rect x="8.02" y="5.64" width="6.5" height="3" fill="#8b9cc2" transform="rotate(160.12 11.22 7.14)"/>
<rect x="-10.92" y="-12.19" width="6.5" height="3" fill="#d9ae70" transform="rotate(94.96 -7.72 -10.69)"/>
<rect x="-8.53" y="-9.4" width="6.5" height="3" fill="#8b9cc2" transform="rotate(90.25 -5.33 -7.9)"/>
<rect x="-6.77" y="7.3" width="6.5" height="3" fill="#d9ae70" transform="rotate(174.03 -3.57 8.8)"/>
<rect x="-3.05" y="3.73" width="6.5" height="3" fill="#8b9cc2" transform="rotate(92.57 0.15 5.23)"/>
<rect x="0.11" y="-3.55" width="6.5" height="3" fill="#d9ae70" transform="rotate(0.72 3.31 -2.05)"/>
<rect x="-1.39" y="4.81" width="6.5" height="3" fill="#8b9cc2" transform="rotate(4.79 1.81 6.31)"/>
<rect x="-13.11" y="-9.97" width="6.5" height="3" fill="#d9ae70" transform="rotate(76.64 -9.91 -8.47)"/>
<rect x="-7.66" y="10.42" width="6.5" height="3" fill="#8b9cc2" transform="rotate(162.95 -4.46 11.92)"/>
<ellipse cx="11.39" cy="-18.23" rx="13" ry="11.5" fill="#e6822b" transform="rotate(32 11.39 -18.23)"/>
</g>
<use href="#tangle" transform="translate(1273.4,434.1) scale(1.31) rotate(10)"/>
<use href="#ab" transform="translate(1018.2,562)"/>
<rect x="157" y="890" width="513.5" height="390" fill="url(#gB)"/>
<rect x="670.5" y="1158" width="92" height="121.5" fill="url(#gBr)"/>
<rect x="156.6" y="1019.6" width="61.3" height="80.3" fill="#f0e0b2" stroke="#9d6b2e" stroke-width="3.2" rx="1.5"/>
<rect x="272.1" y="1019.6" width="59.1" height="80.3" fill="#f0e0b2" stroke="#9d6b2e" stroke-width="3.2" rx="1.5"/>
<rect x="384.8" y="1019.6" width="58.9" height="80.3" fill="#f0e0b2" stroke="#9d6b2e" stroke-width="3.2" rx="1.5"/>
<rect x="497.5" y="1019.6" width="58.9" height="80.3" fill="#f0e0b2" stroke="#9d6b2e" stroke-width="3.2" rx="1.5"/>
<rect x="610.2" y="1019.6" width="58.7" height="80.3" fill="#f0e0b2" stroke="#9d6b2e" stroke-width="3.2" rx="1.5"/>
<g transform="translate(243.4,940) scale(0.77)">
<circle r="44" fill="#e6f3da" opacity="0.75"/>
<circle r="43" fill="none" stroke="#d6ebc6" stroke-width="1.5"/>
<use href="#spk" transform="rotate(-99)"/>
<use href="#spk" transform="rotate(-54)"/>
<use href="#spk" transform="rotate(-9)"/>
<use href="#spk" transform="rotate(36)"/>
<use href="#spk" transform="rotate(81)"/>
<use href="#spk" transform="rotate(126)"/>
<use href="#spk" transform="rotate(171)"/>
<use href="#spk" transform="rotate(216)"/>
<circle r="36" fill="#93c47d"/>
<use href="#rna" transform="rotate(100)"/>
</g>
<g transform="translate(424,879.5) scale(0.97)">
<circle r="44" fill="#e6f3da" opacity="0.75"/>
<circle r="43" fill="none" stroke="#d6ebc6" stroke-width="1.5"/>
<use href="#spk" transform="rotate(-112.5)"/>
<use href="#spk" transform="rotate(-67.5)"/>
<use href="#spk" transform="rotate(-22.5)"/>
<use href="#spk" transform="rotate(22.5)"/>
<use href="#spk" transform="rotate(67.5)"/>
<use href="#spk" transform="rotate(112.5)"/>
<use href="#spk" transform="rotate(157.5)"/>
<use href="#spk" transform="rotate(202.5)"/>
<circle r="36" fill="#93c47d"/>
<use href="#rna" transform="rotate(0)"/>
</g>
<g transform="translate(600.4,959.2) scale(0.57)">
<circle r="44" fill="#e6f3da" opacity="0.75"/>
<circle r="43" fill="none" stroke="#d6ebc6" stroke-width="1.5"/>
<use href="#spk" transform="rotate(-112.5)"/>
<use href="#spk" transform="rotate(-67.5)"/>
<use href="#spk" transform="rotate(-22.5)"/>
<use href="#spk" transform="rotate(22.5)"/>
<use href="#spk" transform="rotate(67.5)"/>
<use href="#spk" transform="rotate(112.5)"/>
<use href="#spk" transform="rotate(157.5)"/>
<use href="#spk" transform="rotate(202.5)"/>
<circle r="36" fill="#93c47d"/>
<use href="#rna" transform="rotate(0)"/>
</g>
<use href="#abs" transform="translate(391.58,812.86) rotate(-42.21)"/>
<use href="#abs" transform="translate(391.6,950.45) rotate(-145.18)"/>
<use href="#abs" transform="translate(456.92,949.54) rotate(156.06)"/>
<use href="#abs" transform="translate(202.07,987.7) rotate(-125.6)"/>
<use href="#abs" transform="translate(299.78,976.67) rotate(122.94)"/>
<use href="#abs" transform="translate(573.03,911.71) rotate(-42.6)"/>
<use href="#abs" transform="translate(195.95,824.75) rotate(-5.58)"/>
<use href="#abs" transform="translate(305.7,858.29) rotate(-29.98)"/>
<use href="#abs" transform="translate(359.35,1000.4) rotate(148.97)"/>
<use href="#abs" transform="translate(539.98,836.82) rotate(-11.05)"/>
<use href="#abs" transform="translate(620.81,828.32) rotate(53.6)"/>
<use href="#abs" transform="translate(524.97,984.5) rotate(107.84)"/>
<rect x="669.5" y="1160" width="2" height="117" fill="#ffb0b0" opacity="0.5"/>
<path d="M57.5,778 H670.5 V1158 H762.5 M762.5,1279.5 H155.5 V904.5 H63.5" fill="none" stroke="#1f3a66" stroke-width="5.2" stroke-linejoin="round"/>
<rect x="862" y="780" width="483" height="122" fill="url(#gCtop)"/>
<polygon points="1497,1132 1596,1221 1497,1310" fill="#a8f8f8"/>
<g clip-path="url(#clipC)">
<rect x="955" y="990" width="542" height="276" fill="url(#gClow)"/>
<rect x="1343" y="990" width="127" height="111" fill="#ffffff"/>
<rect x="1343" y="1101" width="154" height="75" fill="url(#gCpink)"/>
<rect x="1497" y="1160" width="65" height="117" fill="url(#gCright)"/>
<rect x="955" y="1266" width="542" height="11.5" fill="#ff8585"/>
<polygon points="1497,1132 1596,1221 1497,1310" fill="url(#gCarrow)" clip-path="url(#clipCstep)"/>
</g>
<rect x="956.6" y="1019.6" width="59.6" height="80.3" fill="#f0e0b2" stroke="#9d6b2e" stroke-width="3.2" rx="1.5"/>
<rect x="1071.3" y="1019.6" width="58.1" height="80.3" fill="#f0e0b2" stroke="#9d6b2e" stroke-width="3.2" rx="1.5"/>
<rect x="1183.8" y="1019.6" width="58.1" height="80.3" fill="#f0e0b2" stroke="#9d6b2e" stroke-width="3.2" rx="1.5"/>
<rect x="1296.4" y="1019.6" width="58.5" height="80.3" fill="#f0e0b2" stroke="#9d6b2e" stroke-width="3.2" rx="1.5"/>
<rect x="1408.9" y="1019.6" width="59" height="80.3" fill="#f0e0b2" stroke="#9d6b2e" stroke-width="3.2" rx="1.5"/>
<g transform="translate(1043.4,940.7) scale(0.77)">
<circle r="44" fill="#e6f3da" opacity="0.75"/>
<circle r="43" fill="none" stroke="#d6ebc6" stroke-width="1.5"/>
<use href="#spk" transform="rotate(-99)"/>
<use href="#spk" transform="rotate(-54)"/>
<use href="#spk" transform="rotate(-9)"/>
<use href="#spk" transform="rotate(36)"/>
<use href="#spk" transform="rotate(81)"/>
<use href="#spk" transform="rotate(126)"/>
<use href="#spk" transform="rotate(171)"/>
<use href="#spk" transform="rotate(216)"/>
<circle r="36" fill="#93c47d"/>
<use href="#rna" transform="rotate(100)"/>
</g>
<g transform="translate(1223.5,880) scale(0.97)">
<circle r="44" fill="#e6f3da" opacity="0.75"/>
<circle r="43" fill="none" stroke="#d6ebc6" stroke-width="1.5"/>
<use href="#spk" transform="rotate(-112.5)"/>
<use href="#spk" transform="rotate(-67.5)"/>
<use href="#spk" transform="rotate(-22.5)"/>
<use href="#spk" transform="rotate(22.5)"/>
<use href="#spk" transform="rotate(67.5)"/>
<use href="#spk" transform="rotate(112.5)"/>
<use href="#spk" transform="rotate(157.5)"/>
<use href="#spk" transform="rotate(202.5)"/>
<circle r="36" fill="#93c47d"/>
<use href="#rna" transform="rotate(0)"/>
</g>
<g transform="translate(1399.5,959) scale(0.57)">
<circle r="44" fill="#e6f3da" opacity="0.75"/>
<circle r="43" fill="none" stroke="#d6ebc6" stroke-width="1.5"/>
<use href="#spk" transform="rotate(-112.5)"/>
<use href="#spk" transform="rotate(-67.5)"/>
<use href="#spk" transform="rotate(-22.5)"/>
<use href="#spk" transform="rotate(22.5)"/>
<use href="#spk" transform="rotate(67.5)"/>
<use href="#spk" transform="rotate(112.5)"/>
<use href="#spk" transform="rotate(157.5)"/>
<use href="#spk" transform="rotate(202.5)"/>
<circle r="36" fill="#93c47d"/>
<use href="#rna" transform="rotate(0)"/>
</g>
<use href="#abs" transform="translate(1191.58,812.86) rotate(-42.21)"/>
<use href="#abs" transform="translate(1191.6,950.45) rotate(-145.18)"/>
<use href="#abs" transform="translate(1256.92,949.54) rotate(156.06)"/>
<use href="#abs" transform="translate(1002.07,987.7) rotate(-125.6)"/>
<use href="#abs" transform="translate(1099.78,976.67) rotate(122.94)"/>
<use href="#abs" transform="translate(1373.03,911.71) rotate(-42.6)"/>
<use href="#abs" transform="translate(1161.04,1036.4) rotate(109.07)"/>
<use href="#abs" transform="translate(1270.98,1057.22) rotate(13.67)"/>
<use href="#abs" transform="translate(1380.33,1070.35) rotate(-31.6)"/>
<use href="#abs" transform="translate(1141.73,1140.31) rotate(109.01)"/>
<use href="#abs" transform="translate(1283.68,1147.66) rotate(-32.59)"/>
<use href="#abs" transform="translate(1388.27,1161.9) rotate(107.83)"/>
<use href="#abs" transform="translate(1258.02,1216.04) rotate(17.71)"/>
<use href="#abs" transform="translate(1365.82,1251.44) rotate(147.41)"/>
<use href="#abs" transform="translate(1438.77,1212.7) rotate(109.65)"/>
<use href="#abs" transform="translate(1492.69,1243.42) rotate(-15.95)"/>
<use href="#abs" transform="translate(1537.52,1192.16) rotate(20.77)"/>
<rect x="1466.5" y="1160" width="1.5" height="106" fill="#ff9a9a" opacity="0.45"/>
<path d="M862,778.5 H1469.5 V1157.5 H1562 M1562,1279.5 H953 V904.5 H862" fill="none" stroke="#1f3a66" stroke-width="5.2" stroke-linejoin="round"/>
<rect x="1606" y="0" width="2" height="2" fill="#000"/>
</svg></body></html>
